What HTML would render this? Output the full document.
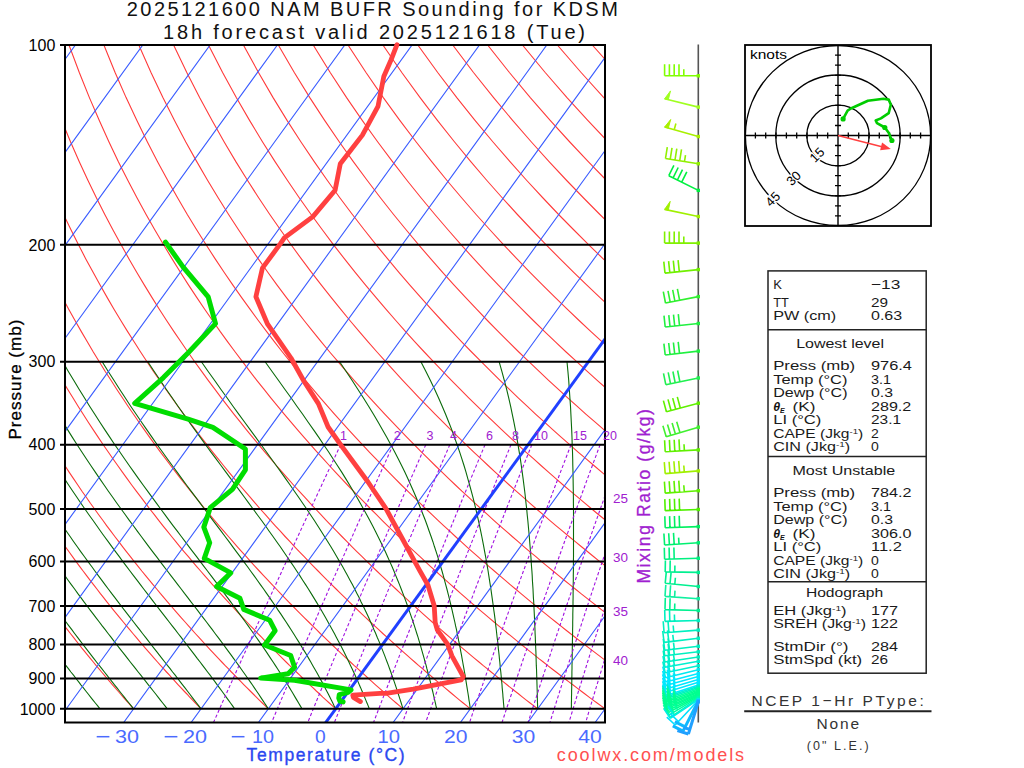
<!DOCTYPE html>
<html><head><meta charset="utf-8"><style>
html,body{margin:0;padding:0;background:#fff;width:1024px;height:768px;overflow:hidden}
svg text{font-family:"Liberation Sans",sans-serif}
</style></head><body>
<svg width="1024" height="768" viewBox="0 0 1024 768" style="position:absolute;left:0;top:0">
<defs><clipPath id="pc"><rect x="65" y="45" width="540" height="677.5"/></clipPath><clipPath id="hc"><rect x="745" y="45" width="186" height="181"/></clipPath></defs>
<g clip-path="url(#pc)" fill="none">
<path d="M66.3 708.8 L63.9 705.9 L61.5 703 L59 700.1 L56.6 697.1 L54.2 694 L51.7 691 L49.2 687.9 L46.7 684.8 L44.2 681.6 L41.7 678.5 L39.2 675.2 L36.7 672 L34.1 668.7 L31.5 665.4 L29 662 L26.4 658.6 L23.8 655.1 L21.2 651.6 L18.5 648.1 L15.9 644.5 L13.2 640.9 L10.6 637.2 L7.9 633.5 L5.2 629.7 L2.4 625.9 L-0.3 622 L-3 618.1 L-5.8 614.1 L-8.6 610.1 L-11.4 606 L-14.2 601.9 L-17 597.6 L-19.9 593.4 L-22.7 589 L-25.6 584.6 L-28.5 580.2 L-31.4 575.6 L-34.4 571 L-37.3 566.3 L-40.3 561.6 L-43.3 556.7 L-46.3 551.8 L-49.3 546.8 L-52.4 541.7 L-55.5 536.5 L-58.6 531.2 L-61.7 525.8 L-64.8 520.3 L-68 514.7 L-71.1 509 L-74.3 503.2 L-77.5 497.2 L-80.8 491.2 L-84.1 485 L-87.3 478.6 L-90.6 472.1 L-94 465.5 L-97.3 458.7 L-100.7 451.8 L-104.1 444.7 L-107.5 437.4 L-111 429.9 L-114.5 422.2 L-118 414.3 L-121.5 406.2 L-125 397.8 L-128.6 389.2 L-132.2 380.3 L-135.8 371.2 L-139.4 361.7 L-143.1 352 L-146.8 341.8 L-150.5 331.4 L-154.2 320.5 L-157.9 309.2 L-161.6 297.4 L-165.4 285.1 L-169.1 272.3 L-172.8 258.9 L-176.6 244.8 L-180.3 230 L-184 214.5 L-187.6 198 L-191.2 180.5 L-194.8 161.9 L-198.2 142 L-201.5 120.6 L-204.6 97.6 L-207.5 72.5 L-210 45 M133.6 708.8 L131 705.9 L128.4 703 L125.8 700.1 L123.2 697.1 L120.5 694 L117.9 691 L115.2 687.9 L112.5 684.8 L109.8 681.6 L107.1 678.5 L104.3 675.2 L101.6 672 L98.8 668.7 L96 665.4 L93.3 662 L90.5 658.6 L87.6 655.1 L84.8 651.6 L81.9 648.1 L79.1 644.5 L76.2 640.9 L73.3 637.2 L70.4 633.5 L67.4 629.7 L64.5 625.9 L61.5 622 L58.5 618.1 L55.5 614.1 L52.5 610.1 L49.4 606 L46.4 601.9 L43.3 597.6 L40.2 593.4 L37.1 589 L33.9 584.6 L30.7 580.2 L27.6 575.6 L24.4 571 L21.1 566.3 L17.9 561.6 L14.6 556.7 L11.3 551.8 L8 546.8 L4.7 541.7 L1.3 536.5 L-2.1 531.2 L-5.5 525.8 L-8.9 520.3 L-12.4 514.7 L-15.9 509 L-19.4 503.2 L-22.9 497.2 L-26.5 491.2 L-30.1 485 L-33.7 478.6 L-37.4 472.1 L-41.1 465.5 L-44.8 458.7 L-48.5 451.8 L-52.3 444.7 L-56.1 437.4 L-59.9 429.9 L-63.8 422.2 L-67.7 414.3 L-71.6 406.2 L-75.6 397.8 L-79.5 389.2 L-83.6 380.3 L-87.6 371.2 L-91.7 361.7 L-95.8 352 L-100 341.8 L-104.1 331.4 L-108.3 320.5 L-112.6 309.2 L-116.8 297.4 L-121.1 285.1 L-125.4 272.3 L-129.7 258.9 L-134.1 244.8 L-138.4 230 L-142.7 214.5 L-147.1 198 L-151.3 180.5 L-155.6 161.9 L-159.8 142 L-163.9 120.6 L-167.9 97.6 L-171.6 72.5 L-175.2 45 M201 708.8 L198.2 705.9 L195.4 703 L192.6 700.1 L189.7 697.1 L186.9 694 L184 691 L181.1 687.9 L178.2 684.8 L175.3 681.6 L172.4 678.5 L169.5 675.2 L166.5 672 L163.5 668.7 L160.5 665.4 L157.5 662 L154.5 658.6 L151.5 655.1 L148.4 651.6 L145.3 648.1 L142.2 644.5 L139.1 640.9 L136 637.2 L132.9 633.5 L129.7 629.7 L126.5 625.9 L123.3 622 L120.1 618.1 L116.8 614.1 L113.5 610.1 L110.2 606 L106.9 601.9 L103.6 597.6 L100.2 593.4 L96.9 589 L93.5 584.6 L90 580.2 L86.6 575.6 L83.1 571 L79.6 566.3 L76.1 561.6 L72.5 556.7 L69 551.8 L65.4 546.8 L61.7 541.7 L58.1 536.5 L54.4 531.2 L50.7 525.8 L46.9 520.3 L43.2 514.7 L39.3 509 L35.5 503.2 L31.7 497.2 L27.8 491.2 L23.8 485 L19.9 478.6 L15.9 472.1 L11.8 465.5 L7.8 458.7 L3.7 451.8 L-0.5 444.7 L-4.6 437.4 L-8.8 429.9 L-13.1 422.2 L-17.4 414.3 L-21.7 406.2 L-26.1 397.8 L-30.5 389.2 L-34.9 380.3 L-39.4 371.2 L-44 361.7 L-48.5 352 L-53.1 341.8 L-57.8 331.4 L-62.5 320.5 L-67.3 309.2 L-72 297.4 L-76.9 285.1 L-81.7 272.3 L-86.6 258.9 L-91.5 244.8 L-96.5 230 L-101.5 214.5 L-106.5 198 L-111.5 180.5 L-116.4 161.9 L-121.4 142 L-126.3 120.6 L-131.1 97.6 L-135.8 72.5 L-140.3 45 M268.3 708.8 L265.3 705.9 L262.3 703 L259.3 700.1 L256.3 697.1 L253.2 694 L250.2 691 L247.1 687.9 L244 684.8 L240.9 681.6 L237.8 678.5 L234.6 675.2 L231.4 672 L228.3 668.7 L225 665.4 L221.8 662 L218.6 658.6 L215.3 655.1 L212 651.6 L208.7 648.1 L205.4 644.5 L202.1 640.9 L198.7 637.2 L195.3 633.5 L191.9 629.7 L188.5 625.9 L185.1 622 L181.6 618.1 L178.1 614.1 L174.6 610.1 L171.1 606 L167.5 601.9 L163.9 597.6 L160.3 593.4 L156.7 589 L153 584.6 L149.3 580.2 L145.6 575.6 L141.8 571 L138.1 566.3 L134.3 561.6 L130.4 556.7 L126.6 551.8 L122.7 546.8 L118.8 541.7 L114.8 536.5 L110.8 531.2 L106.8 525.8 L102.8 520.3 L98.7 514.7 L94.6 509 L90.4 503.2 L86.3 497.2 L82 491.2 L77.8 485 L73.5 478.6 L69.1 472.1 L64.8 465.5 L60.3 458.7 L55.9 451.8 L51.4 444.7 L46.8 437.4 L42.2 429.9 L37.6 422.2 L32.9 414.3 L28.2 406.2 L23.4 397.8 L18.6 389.2 L13.7 380.3 L8.8 371.2 L3.8 361.7 L-1.2 352 L-6.3 341.8 L-11.5 331.4 L-16.7 320.5 L-21.9 309.2 L-27.2 297.4 L-32.6 285.1 L-38 272.3 L-43.5 258.9 L-49 244.8 L-54.6 230 L-60.2 214.5 L-65.9 198 L-71.6 180.5 L-77.3 161.9 L-83 142 L-88.7 120.6 L-94.4 97.6 L-99.9 72.5 L-105.4 45 M335.7 708.8 L332.5 705.9 L329.3 703 L326.1 700.1 L322.8 697.1 L319.6 694 L316.3 691 L313.1 687.9 L309.8 684.8 L306.4 681.6 L303.1 678.5 L299.7 675.2 L296.4 672 L293 668.7 L289.5 665.4 L286.1 662 L282.7 658.6 L279.2 655.1 L275.7 651.6 L272.2 648.1 L268.6 644.5 L265 640.9 L261.5 637.2 L257.8 633.5 L254.2 629.7 L250.5 625.9 L246.9 622 L243.2 618.1 L239.4 614.1 L235.7 610.1 L231.9 606 L228.1 601.9 L224.2 597.6 L220.4 593.4 L216.5 589 L212.5 584.6 L208.6 580.2 L204.6 575.6 L200.6 571 L196.5 566.3 L192.5 561.6 L188.4 556.7 L184.2 551.8 L180 546.8 L175.8 541.7 L171.6 536.5 L167.3 531.2 L163 525.8 L158.7 520.3 L154.3 514.7 L149.8 509 L145.4 503.2 L140.9 497.2 L136.3 491.2 L131.7 485 L127.1 478.6 L122.4 472.1 L117.7 465.5 L112.9 458.7 L108.1 451.8 L103.2 444.7 L98.3 437.4 L93.3 429.9 L88.3 422.2 L83.2 414.3 L78.1 406.2 L72.9 397.8 L67.6 389.2 L62.3 380.3 L57 371.2 L51.5 361.7 L46 352 L40.5 341.8 L34.8 331.4 L29.1 320.5 L23.4 309.2 L17.5 297.4 L11.6 285.1 L5.7 272.3 L-0.4 258.9 L-6.5 244.8 L-12.7 230 L-19 214.5 L-25.3 198 L-31.7 180.5 L-38.1 161.9 L-44.6 142 L-51.1 120.6 L-57.6 97.6 L-64.1 72.5 L-70.5 45 M403 708.8 L399.6 705.9 L396.2 703 L392.8 700.1 L389.4 697.1 L386 694 L382.5 691 L379 687.9 L375.5 684.8 L372 681.6 L368.4 678.5 L364.9 675.2 L361.3 672 L357.7 668.7 L354 665.4 L350.4 662 L346.7 658.6 L343 655.1 L339.3 651.6 L335.6 648.1 L331.8 644.5 L328 640.9 L324.2 637.2 L320.3 633.5 L316.5 629.7 L312.6 625.9 L308.7 622 L304.7 618.1 L300.7 614.1 L296.7 610.1 L292.7 606 L288.6 601.9 L284.5 597.6 L280.4 593.4 L276.3 589 L272.1 584.6 L267.9 580.2 L263.6 575.6 L259.3 571 L255 566.3 L250.7 561.6 L246.3 556.7 L241.9 551.8 L237.4 546.8 L232.9 541.7 L228.4 536.5 L223.8 531.2 L219.2 525.8 L214.5 520.3 L209.8 514.7 L205.1 509 L200.3 503.2 L195.5 497.2 L190.6 491.2 L185.7 485 L180.7 478.6 L175.7 472.1 L170.6 465.5 L165.5 458.7 L160.3 451.8 L155 444.7 L149.7 437.4 L144.4 429.9 L139 422.2 L133.5 414.3 L128 406.2 L122.4 397.8 L116.7 389.2 L111 380.3 L105.1 371.2 L99.3 361.7 L93.3 352 L87.3 341.8 L81.2 331.4 L75 320.5 L68.7 309.2 L62.3 297.4 L55.9 285.1 L49.4 272.3 L42.7 258.9 L36 244.8 L29.2 230 L22.3 214.5 L15.3 198 L8.2 180.5 L1.1 161.9 L-6.2 142 L-13.5 120.6 L-20.9 97.6 L-28.3 72.5 L-35.6 45 M470.3 708.8 L466.8 705.9 L463.2 703 L459.6 700.1 L456 697.1 L452.3 694 L448.7 691 L445 687.9 L441.3 684.8 L437.5 681.6 L433.8 678.5 L430 675.2 L426.2 672 L422.4 668.7 L418.5 665.4 L414.7 662 L410.8 658.6 L406.9 655.1 L402.9 651.6 L399 648.1 L395 644.5 L391 640.9 L386.9 637.2 L382.8 633.5 L378.7 629.7 L374.6 625.9 L370.4 622 L366.3 618.1 L362 614.1 L357.8 610.1 L353.5 606 L349.2 601.9 L344.9 597.6 L340.5 593.4 L336.1 589 L331.6 584.6 L327.1 580.2 L322.6 575.6 L318.1 571 L313.5 566.3 L308.9 561.6 L304.2 556.7 L299.5 551.8 L294.7 546.8 L290 541.7 L285.1 536.5 L280.3 531.2 L275.3 525.8 L270.4 520.3 L265.4 514.7 L260.3 509 L255.2 503.2 L250.1 497.2 L244.9 491.2 L239.6 485 L234.3 478.6 L228.9 472.1 L223.5 465.5 L218 458.7 L212.5 451.8 L206.9 444.7 L201.2 437.4 L195.5 429.9 L189.7 422.2 L183.8 414.3 L177.9 406.2 L171.8 397.8 L165.8 389.2 L159.6 380.3 L153.3 371.2 L147 361.7 L140.6 352 L134.1 341.8 L127.5 331.4 L120.8 320.5 L114 309.2 L107.1 297.4 L100.1 285.1 L93.1 272.3 L85.8 258.9 L78.5 244.8 L71.1 230 L63.6 214.5 L55.9 198 L48.1 180.5 L40.2 161.9 L32.2 142 L24.1 120.6 L15.9 97.6 L7.6 72.5 L-0.8 45 M537.7 708.8 L533.9 705.9 L530.1 703 L526.3 700.1 L522.5 697.1 L518.7 694 L514.8 691 L510.9 687.9 L507 684.8 L503.1 681.6 L499.1 678.5 L495.1 675.2 L491.1 672 L487.1 668.7 L483 665.4 L479 662 L474.9 658.6 L470.7 655.1 L466.6 651.6 L462.4 648.1 L458.2 644.5 L453.9 640.9 L449.6 637.2 L445.3 633.5 L441 629.7 L436.6 625.9 L432.2 622 L427.8 618.1 L423.3 614.1 L418.9 610.1 L414.3 606 L409.8 601.9 L405.2 597.6 L400.5 593.4 L395.9 589 L391.2 584.6 L386.4 580.2 L381.6 575.6 L376.8 571 L372 566.3 L367.1 561.6 L362.1 556.7 L357.1 551.8 L352.1 546.8 L347 541.7 L341.9 536.5 L336.7 531.2 L331.5 525.8 L326.2 520.3 L320.9 514.7 L315.6 509 L310.1 503.2 L304.7 497.2 L299.1 491.2 L293.5 485 L287.9 478.6 L282.2 472.1 L276.4 465.5 L270.6 458.7 L264.7 451.8 L258.7 444.7 L252.7 437.4 L246.5 429.9 L240.4 422.2 L234.1 414.3 L227.7 406.2 L221.3 397.8 L214.8 389.2 L208.2 380.3 L201.5 371.2 L194.7 361.7 L187.9 352 L180.9 341.8 L173.8 331.4 L166.6 320.5 L159.3 309.2 L151.9 297.4 L144.4 285.1 L136.7 272.3 L129 258.9 L121.1 244.8 L113 230 L104.8 214.5 L96.5 198 L88 180.5 L79.4 161.9 L70.6 142 L61.7 120.6 L52.6 97.6 L43.4 72.5 L34.1 45 M605 708.8 L601.1 705.9 L597.1 703 L593.1 700.1 L589.1 697.1 L585 694 L581 691 L576.9 687.9 L572.8 684.8 L568.6 681.6 L564.5 678.5 L560.3 675.2 L556.1 672 L551.8 668.7 L547.5 665.4 L543.3 662 L538.9 658.6 L534.6 655.1 L530.2 651.6 L525.8 648.1 L521.3 644.5 L516.9 640.9 L512.4 637.2 L507.8 633.5 L503.3 629.7 L498.7 625.9 L494 622 L489.4 618.1 L484.7 614.1 L479.9 610.1 L475.1 606 L470.3 601.9 L465.5 597.6 L460.6 593.4 L455.7 589 L450.7 584.6 L445.7 580.2 L440.7 575.6 L435.6 571 L430.4 566.3 L425.3 561.6 L420 556.7 L414.8 551.8 L409.4 546.8 L404.1 541.7 L398.7 536.5 L393.2 531.2 L387.7 525.8 L382.1 520.3 L376.5 514.7 L370.8 509 L365.1 503.2 L359.3 497.2 L353.4 491.2 L347.5 485 L341.5 478.6 L335.4 472.1 L329.3 465.5 L323.1 458.7 L316.9 451.8 L310.5 444.7 L304.1 437.4 L297.6 429.9 L291 422.2 L284.4 414.3 L277.6 406.2 L270.8 397.8 L263.9 389.2 L256.8 380.3 L249.7 371.2 L242.5 361.7 L235.2 352 L227.7 341.8 L220.1 331.4 L212.5 320.5 L204.7 309.2 L196.7 297.4 L188.6 285.1 L180.4 272.3 L172.1 258.9 L163.6 244.8 L154.9 230 L146.1 214.5 L137.1 198 L127.9 180.5 L118.5 161.9 L109 142 L99.3 120.6 L89.4 97.6 L79.3 72.5 L69 45 M672.4 708.8 L668.2 705.9 L664 703 L659.9 700.1 L655.6 697.1 L651.4 694 L647.1 691 L642.8 687.9 L638.5 684.8 L634.2 681.6 L629.8 678.5 L625.4 675.2 L621 672 L616.5 668.7 L612 665.4 L607.5 662 L603 658.6 L598.4 655.1 L593.8 651.6 L589.2 648.1 L584.5 644.5 L579.8 640.9 L575.1 637.2 L570.3 633.5 L565.5 629.7 L560.7 625.9 L555.8 622 L550.9 618.1 L546 614.1 L541 610.1 L536 606 L530.9 601.9 L525.8 597.6 L520.7 593.4 L515.5 589 L510.2 584.6 L505 580.2 L499.7 575.6 L494.3 571 L488.9 566.3 L483.4 561.6 L477.9 556.7 L472.4 551.8 L466.8 546.8 L461.1 541.7 L455.4 536.5 L449.7 531.2 L443.9 525.8 L438 520.3 L432 514.7 L426 509 L420 503.2 L413.9 497.2 L407.7 491.2 L401.4 485 L395.1 478.6 L388.7 472.1 L382.2 465.5 L375.7 458.7 L369.1 451.8 L362.4 444.7 L355.6 437.4 L348.7 429.9 L341.7 422.2 L334.7 414.3 L327.5 406.2 L320.3 397.8 L312.9 389.2 L305.5 380.3 L297.9 371.2 L290.2 361.7 L282.4 352 L274.5 341.8 L266.5 331.4 L258.3 320.5 L250 309.2 L241.5 297.4 L232.9 285.1 L224.1 272.3 L215.2 258.9 L206.1 244.8 L196.8 230 L187.3 214.5 L177.7 198 L167.8 180.5 L157.7 161.9 L147.4 142 L136.9 120.6 L126.1 97.6 L115.1 72.5 L103.9 45 M739.7 708.8 L735.4 705.9 L731 703 L726.6 700.1 L722.2 697.1 L717.8 694 L713.3 691 L708.8 687.9 L704.3 684.8 L699.7 681.6 L695.2 678.5 L690.5 675.2 L685.9 672 L681.2 668.7 L676.5 665.4 L671.8 662 L667.1 658.6 L662.3 655.1 L657.4 651.6 L652.6 648.1 L647.7 644.5 L642.8 640.9 L637.8 637.2 L632.8 633.5 L627.8 629.7 L622.7 625.9 L617.6 622 L612.5 618.1 L607.3 614.1 L602 610.1 L596.8 606 L591.5 601.9 L586.1 597.6 L580.7 593.4 L575.3 589 L569.8 584.6 L564.3 580.2 L558.7 575.6 L553.1 571 L547.4 566.3 L541.6 561.6 L535.9 556.7 L530 551.8 L524.1 546.8 L518.2 541.7 L512.2 536.5 L506.1 531.2 L500 525.8 L493.8 520.3 L487.6 514.7 L481.3 509 L474.9 503.2 L468.5 497.2 L461.9 491.2 L455.4 485 L448.7 478.6 L442 472.1 L435.1 465.5 L428.2 458.7 L421.3 451.8 L414.2 444.7 L407 437.4 L399.8 429.9 L392.4 422.2 L385 414.3 L377.4 406.2 L369.8 397.8 L362 389.2 L354.1 380.3 L346.1 371.2 L338 361.7 L329.7 352 L321.3 341.8 L312.8 331.4 L304.1 320.5 L295.3 309.2 L286.3 297.4 L277.1 285.1 L267.8 272.3 L258.3 258.9 L248.6 244.8 L238.7 230 L228.6 214.5 L218.3 198 L207.7 180.5 L196.9 161.9 L185.8 142 L174.5 120.6 L162.9 97.6 L151 72.5 L138.8 45 M807 708.8 L802.5 705.9 L797.9 703 L793.4 700.1 L788.8 697.1 L784.1 694 L779.5 691 L774.8 687.9 L770 684.8 L765.3 681.6 L760.5 678.5 L755.7 675.2 L750.8 672 L746 668.7 L741 665.4 L736.1 662 L731.1 658.6 L726.1 655.1 L721.1 651.6 L716 648.1 L710.9 644.5 L705.7 640.9 L700.5 637.2 L695.3 633.5 L690 629.7 L684.7 625.9 L679.4 622 L674 618.1 L668.6 614.1 L663.1 610.1 L657.6 606 L652 601.9 L646.4 597.6 L640.8 593.4 L635.1 589 L629.3 584.6 L623.5 580.2 L617.7 575.6 L611.8 571 L605.8 566.3 L599.8 561.6 L593.8 556.7 L587.7 551.8 L581.5 546.8 L575.3 541.7 L569 536.5 L562.6 531.2 L556.2 525.8 L549.7 520.3 L543.2 514.7 L536.5 509 L529.8 503.2 L523.1 497.2 L516.2 491.2 L509.3 485 L502.3 478.6 L495.2 472.1 L488.1 465.5 L480.8 458.7 L473.5 451.8 L466 444.7 L458.5 437.4 L450.8 429.9 L443.1 422.2 L435.3 414.3 L427.3 406.2 L419.2 397.8 L411 389.2 L402.7 380.3 L394.3 371.2 L385.7 361.7 L377 352 L368.1 341.8 L359.1 331.4 L349.9 320.5 L340.6 309.2 L331.1 297.4 L321.4 285.1 L311.5 272.3 L301.4 258.9 L291.1 244.8 L280.6 230 L269.8 214.5 L258.8 198 L247.6 180.5 L236 161.9 L224.2 142 L212.1 120.6 L199.6 97.6 L186.8 72.5 L173.6 45 M874.4 708.8 L869.7 705.9 L864.9 703 L860.1 700.1 L855.3 697.1 L850.5 694 L845.6 691 L840.7 687.9 L835.8 684.8 L830.8 681.6 L825.8 678.5 L820.8 675.2 L815.8 672 L810.7 668.7 L805.5 665.4 L800.4 662 L795.2 658.6 L790 655.1 L784.7 651.6 L779.4 648.1 L774.1 644.5 L768.7 640.9 L763.3 637.2 L757.8 633.5 L752.3 629.7 L746.8 625.9 L741.2 622 L735.6 618.1 L729.9 614.1 L724.2 610.1 L718.4 606 L712.6 601.9 L706.7 597.6 L700.8 593.4 L694.9 589 L688.9 584.6 L682.8 580.2 L676.7 575.6 L670.5 571 L664.3 566.3 L658 561.6 L651.7 556.7 L645.3 551.8 L638.8 546.8 L632.3 541.7 L625.7 536.5 L619.1 531.2 L612.4 525.8 L605.6 520.3 L598.7 514.7 L591.8 509 L584.8 503.2 L577.7 497.2 L570.5 491.2 L563.2 485 L555.9 478.6 L548.5 472.1 L541 465.5 L533.4 458.7 L525.6 451.8 L517.8 444.7 L509.9 437.4 L501.9 429.9 L493.8 422.2 L485.6 414.3 L477.2 406.2 L468.7 397.8 L460.1 389.2 L451.4 380.3 L442.5 371.2 L433.4 361.7 L424.3 352 L414.9 341.8 L405.4 331.4 L395.8 320.5 L385.9 309.2 L375.9 297.4 L365.6 285.1 L355.2 272.3 L344.5 258.9 L333.6 244.8 L322.5 230 L311.1 214.5 L299.4 198 L287.5 180.5 L275.2 161.9 L262.6 142 L249.7 120.6 L236.3 97.6 L222.6 72.5 L208.5 45 M941.7 708.8 L936.8 705.9 L931.9 703 L926.9 700.1 L921.9 697.1 L916.8 694 L911.8 691 L906.7 687.9 L901.5 684.8 L896.4 681.6 L891.2 678.5 L886 675.2 L880.7 672 L875.4 668.7 L870 665.4 L864.7 662 L859.3 658.6 L853.8 655.1 L848.3 651.6 L842.8 648.1 L837.2 644.5 L831.6 640.9 L826 637.2 L820.3 633.5 L814.6 629.7 L808.8 625.9 L803 622 L797.1 618.1 L791.2 614.1 L785.2 610.1 L779.2 606 L773.2 601.9 L767.1 597.6 L760.9 593.4 L754.7 589 L748.4 584.6 L742.1 580.2 L735.7 575.6 L729.3 571 L722.8 566.3 L716.2 561.6 L709.6 556.7 L702.9 551.8 L696.2 546.8 L689.4 541.7 L682.5 536.5 L675.5 531.2 L668.5 525.8 L661.4 520.3 L654.3 514.7 L647 509 L639.7 503.2 L632.3 497.2 L624.8 491.2 L617.2 485 L609.5 478.6 L601.7 472.1 L593.9 465.5 L585.9 458.7 L577.8 451.8 L569.7 444.7 L561.4 437.4 L553 429.9 L544.5 422.2 L535.8 414.3 L527.1 406.2 L518.2 397.8 L509.2 389.2 L500 380.3 L490.7 371.2 L481.2 361.7 L471.6 352 L461.7 341.8 L451.8 331.4 L441.6 320.5 L431.2 309.2 L420.7 297.4 L409.9 285.1 L398.9 272.3 L387.7 258.9 L376.2 244.8 L364.4 230 L352.4 214.5 L340 198 L327.4 180.5 L314.4 161.9 L301 142 L287.2 120.6 L273.1 97.6 L258.5 72.5 L243.4 45 M1009.1 708.8 L1003.9 705.9 L998.8 703 L993.6 700.1 L988.4 697.1 L983.2 694 L977.9 691 L972.6 687.9 L967.3 684.8 L961.9 681.6 L956.5 678.5 L951.1 675.2 L945.6 672 L940.1 668.7 L934.5 665.4 L929 662 L923.3 658.6 L917.7 655.1 L912 651.6 L906.2 648.1 L900.4 644.5 L894.6 640.9 L888.7 637.2 L882.8 633.5 L876.8 629.7 L870.8 625.9 L864.8 622 L858.7 618.1 L852.5 614.1 L846.3 610.1 L840 606 L833.7 601.9 L827.4 597.6 L821 593.4 L814.5 589 L808 584.6 L801.4 580.2 L794.7 575.6 L788 571 L781.3 566.3 L774.4 561.6 L767.5 556.7 L760.6 551.8 L753.5 546.8 L746.4 541.7 L739.3 536.5 L732 531.2 L724.7 525.8 L717.3 520.3 L709.8 514.7 L702.3 509 L694.6 503.2 L686.9 497.2 L679 491.2 L671.1 485 L663.1 478.6 L655 472.1 L646.8 465.5 L638.5 458.7 L630 451.8 L621.5 444.7 L612.8 437.4 L604.1 429.9 L595.2 422.2 L586.1 414.3 L577 406.2 L567.7 397.8 L558.2 389.2 L548.6 380.3 L538.9 371.2 L528.9 361.7 L518.8 352 L508.6 341.8 L498.1 331.4 L487.4 320.5 L476.6 309.2 L465.5 297.4 L454.1 285.1 L442.6 272.3 L430.8 258.9 L418.7 244.8 L406.3 230 L393.6 214.5 L380.6 198 L367.3 180.5 L353.5 161.9 L339.4 142 L324.8 120.6 L309.8 97.6 L294.3 72.5 L278.3 45 M1076.4 708.8 L1071.1 705.9 L1065.8 703 L1060.4 700.1 L1055 697.1 L1049.6 694 L1044.1 691 L1038.6 687.9 L1033.1 684.8 L1027.5 681.6 L1021.9 678.5 L1016.2 675.2 L1010.5 672 L1004.8 668.7 L999 665.4 L993.2 662 L987.4 658.6 L981.5 655.1 L975.6 651.6 L969.6 648.1 L963.6 644.5 L957.5 640.9 L951.4 637.2 L945.3 633.5 L939.1 629.7 L932.8 625.9 L926.5 622 L920.2 618.1 L913.8 614.1 L907.4 610.1 L900.9 606 L894.3 601.9 L887.7 597.6 L881 593.4 L874.3 589 L867.5 584.6 L860.7 580.2 L853.7 575.6 L846.8 571 L839.7 566.3 L832.6 561.6 L825.4 556.7 L818.2 551.8 L810.9 546.8 L803.5 541.7 L796 536.5 L788.5 531.2 L780.9 525.8 L773.2 520.3 L765.4 514.7 L757.5 509 L749.5 503.2 L741.5 497.2 L733.3 491.2 L725.1 485 L716.7 478.6 L708.3 472.1 L699.7 465.5 L691 458.7 L682.2 451.8 L673.3 444.7 L664.3 437.4 L655.1 429.9 L645.9 422.2 L636.4 414.3 L626.9 406.2 L617.1 397.8 L607.3 389.2 L597.2 380.3 L587 371.2 L576.7 361.7 L566.1 352 L555.4 341.8 L544.4 331.4 L533.3 320.5 L521.9 309.2 L510.3 297.4 L498.4 285.1 L486.3 272.3 L473.9 258.9 L461.2 244.8 L448.2 230 L434.9 214.5 L421.2 198 L407.1 180.5 L392.7 161.9 L377.8 142 L362.4 120.6 L346.6 97.6 L330.2 72.5 L313.2 45 M1143.7 708.8 L1138.2 705.9 L1132.7 703 L1127.1 700.1 L1121.6 697.1 L1115.9 694 L1110.3 691 L1104.5 687.9 L1098.8 684.8 L1093 681.6 L1087.2 678.5 L1081.4 675.2 L1075.5 672 L1069.5 668.7 L1063.5 665.4 L1057.5 662 L1051.5 658.6 L1045.4 655.1 L1039.2 651.6 L1033 648.1 L1026.8 644.5 L1020.5 640.9 L1014.2 637.2 L1007.8 633.5 L1001.3 629.7 L994.9 625.9 L988.3 622 L981.7 618.1 L975.1 614.1 L968.4 610.1 L961.7 606 L954.9 601.9 L948 597.6 L941.1 593.4 L934.1 589 L927 584.6 L919.9 580.2 L912.8 575.6 L905.5 571 L898.2 566.3 L890.8 561.6 L883.4 556.7 L875.8 551.8 L868.2 546.8 L860.6 541.7 L852.8 536.5 L845 531.2 L837 525.8 L829 520.3 L820.9 514.7 L812.7 509 L804.5 503.2 L796.1 497.2 L787.6 491.2 L779 485 L770.3 478.6 L761.5 472.1 L752.6 465.5 L743.6 458.7 L734.4 451.8 L725.2 444.7 L715.8 437.4 L706.2 429.9 L696.5 422.2 L686.7 414.3 L676.8 406.2 L666.6 397.8 L656.3 389.2 L645.9 380.3 L635.2 371.2 L624.4 361.7 L613.4 352 L602.2 341.8 L590.7 331.4 L579.1 320.5 L567.2 309.2 L555.1 297.4 L542.7 285.1 L530 272.3 L517 258.9 L503.7 244.8 L490.1 230 L476.1 214.5 L461.8 198 L447 180.5 L431.9 161.9 L416.2 142 L400 120.6 L383.3 97.6 L366 72.5 L348 45 M1211.1 708.8 L1205.4 705.9 L1199.7 703 L1193.9 700.1 L1188.1 697.1 L1182.3 694 L1176.4 691 L1170.5 687.9 L1164.6 684.8 L1158.6 681.6 L1152.6 678.5 L1146.5 675.2 L1140.4 672 L1134.2 668.7 L1128 665.4 L1121.8 662 L1115.5 658.6 L1109.2 655.1 L1102.8 651.6 L1096.4 648.1 L1090 644.5 L1083.5 640.9 L1076.9 637.2 L1070.3 633.5 L1063.6 629.7 L1056.9 625.9 L1050.1 622 L1043.3 618.1 L1036.4 614.1 L1029.5 610.1 L1022.5 606 L1015.4 601.9 L1008.3 597.6 L1001.1 593.4 L993.9 589 L986.6 584.6 L979.2 580.2 L971.8 575.6 L964.3 571 L956.7 566.3 L949 561.6 L941.3 556.7 L933.5 551.8 L925.6 546.8 L917.6 541.7 L909.6 536.5 L901.4 531.2 L893.2 525.8 L884.9 520.3 L876.5 514.7 L868 509 L859.4 503.2 L850.7 497.2 L841.9 491.2 L833 485 L823.9 478.6 L814.8 472.1 L805.5 465.5 L796.1 458.7 L786.6 451.8 L777 444.7 L767.2 437.4 L757.3 429.9 L747.2 422.2 L737 414.3 L726.6 406.2 L716.1 397.8 L705.4 389.2 L694.5 380.3 L683.4 371.2 L672.2 361.7 L660.7 352 L649 341.8 L637.1 331.4 L624.9 320.5 L612.5 309.2 L599.8 297.4 L586.9 285.1 L573.7 272.3 L560.1 258.9 L546.2 244.8 L532 230 L517.4 214.5 L502.4 198 L486.9 180.5 L471 161.9 L454.6 142 L437.6 120.6 L420.1 97.6 L401.8 72.5 L382.9 45 M1278.4 708.8 L1272.5 705.9 L1266.6 703 L1260.7 700.1 L1254.7 697.1 L1248.6 694 L1242.6 691 L1236.5 687.9 L1230.3 684.8 L1224.1 681.6 L1217.9 678.5 L1211.6 675.2 L1205.3 672 L1199 668.7 L1192.5 665.4 L1186.1 662 L1179.6 658.6 L1173.1 655.1 L1166.5 651.6 L1159.8 648.1 L1153.1 644.5 L1146.4 640.9 L1139.6 637.2 L1132.8 633.5 L1125.9 629.7 L1118.9 625.9 L1111.9 622 L1104.8 618.1 L1097.7 614.1 L1090.5 610.1 L1083.3 606 L1076 601.9 L1068.6 597.6 L1061.2 593.4 L1053.7 589 L1046.1 584.6 L1038.5 580.2 L1030.8 575.6 L1023 571 L1015.1 566.3 L1007.2 561.6 L999.2 556.7 L991.1 551.8 L982.9 546.8 L974.7 541.7 L966.3 536.5 L957.9 531.2 L949.4 525.8 L940.8 520.3 L932 514.7 L923.2 509 L914.3 503.2 L905.3 497.2 L896.1 491.2 L886.9 485 L877.5 478.6 L868 472.1 L858.4 465.5 L848.7 458.7 L838.8 451.8 L828.8 444.7 L818.7 437.4 L808.4 429.9 L797.9 422.2 L787.3 414.3 L776.5 406.2 L765.6 397.8 L754.5 389.2 L743.1 380.3 L731.6 371.2 L719.9 361.7 L708 352 L695.8 341.8 L683.4 331.4 L670.7 320.5 L657.8 309.2 L644.6 297.4 L631.2 285.1 L617.4 272.3 L603.2 258.9 L588.8 244.8 L573.9 230 L558.6 214.5 L543 198 L526.8 180.5 L510.2 161.9 L493 142 L475.2 120.6 L456.8 97.6 L437.7 72.5 L417.8 45 M1345.8 708.8 L1339.7 705.9 L1333.6 703 L1327.4 700.1 L1321.2 697.1 L1315 694 L1308.7 691 L1302.4 687.9 L1296.1 684.8 L1289.7 681.6 L1283.2 678.5 L1276.8 675.2 L1270.2 672 L1263.7 668.7 L1257 665.4 L1250.4 662 L1243.7 658.6 L1236.9 655.1 L1230.1 651.6 L1223.2 648.1 L1216.3 644.5 L1209.4 640.9 L1202.3 637.2 L1195.3 633.5 L1188.1 629.7 L1180.9 625.9 L1173.7 622 L1166.4 618.1 L1159 614.1 L1151.6 610.1 L1144.1 606 L1136.6 601.9 L1128.9 597.6 L1121.3 593.4 L1113.5 589 L1105.7 584.6 L1097.8 580.2 L1089.8 575.6 L1081.7 571 L1073.6 566.3 L1065.4 561.6 L1057.1 556.7 L1048.7 551.8 L1040.3 546.8 L1031.7 541.7 L1023.1 536.5 L1014.4 531.2 L1005.5 525.8 L996.6 520.3 L987.6 514.7 L978.5 509 L969.2 503.2 L959.9 497.2 L950.4 491.2 L940.8 485 L931.1 478.6 L921.3 472.1 L911.3 465.5 L901.3 458.7 L891 451.8 L880.7 444.7 L870.1 437.4 L859.5 429.9 L848.6 422.2 L837.6 414.3 L826.4 406.2 L815.1 397.8 L803.5 389.2 L791.8 380.3 L779.8 371.2 L767.6 361.7 L755.2 352 L742.6 341.8 L729.7 331.4 L716.6 320.5 L703.1 309.2 L689.4 297.4 L675.4 285.1 L661 272.3 L646.3 258.9 L631.3 244.8 L615.8 230 L599.9 214.5 L583.6 198 L566.7 180.5 L549.3 161.9 L531.4 142 L512.8 120.6 L493.6 97.6 L473.5 72.5 L452.7 45 M1413.1 708.8 L1406.8 705.9 L1400.5 703 L1394.2 700.1 L1387.8 697.1 L1381.4 694 L1374.9 691 L1368.4 687.9 L1361.8 684.8 L1355.2 681.6 L1348.6 678.5 L1341.9 675.2 L1335.2 672 L1328.4 668.7 L1321.5 665.4 L1314.7 662 L1307.7 658.6 L1300.8 655.1 L1293.7 651.6 L1286.6 648.1 L1279.5 644.5 L1272.3 640.9 L1265.1 637.2 L1257.8 633.5 L1250.4 629.7 L1243 625.9 L1235.5 622 L1227.9 618.1 L1220.3 614.1 L1212.7 610.1 L1204.9 606 L1197.1 601.9 L1189.3 597.6 L1181.3 593.4 L1173.3 589 L1165.2 584.6 L1157 580.2 L1148.8 575.6 L1140.5 571 L1132.1 566.3 L1123.6 561.6 L1115 556.7 L1106.4 551.8 L1097.6 546.8 L1088.8 541.7 L1079.9 536.5 L1070.8 531.2 L1061.7 525.8 L1052.5 520.3 L1043.1 514.7 L1033.7 509 L1024.1 503.2 L1014.5 497.2 L1004.7 491.2 L994.8 485 L984.7 478.6 L974.6 472.1 L964.3 465.5 L953.8 458.7 L943.2 451.8 L932.5 444.7 L921.6 437.4 L910.5 429.9 L899.3 422.2 L887.9 414.3 L876.3 406.2 L864.5 397.8 L852.6 389.2 L840.4 380.3 L828 371.2 L815.4 361.7 L802.5 352 L789.4 341.8 L776 331.4 L762.4 320.5 L748.5 309.2 L734.2 297.4 L719.7 285.1 L704.7 272.3 L689.5 258.9 L673.8 244.8 L657.7 230 L641.2 214.5 L624.1 198 L606.6 180.5 L588.5 161.9 L569.8 142 L550.4 120.6 L530.3 97.6 L509.4 72.5 L487.6 45 M1480.4 708.8 L1474 705.9 L1467.5 703 L1460.9 700.1 L1454.3 697.1 L1447.7 694 L1441.1 691 L1434.3 687.9 L1427.6 684.8 L1420.8 681.6 L1413.9 678.5 L1407 675.2 L1400.1 672 L1393.1 668.7 L1386 665.4 L1379 662 L1371.8 658.6 L1364.6 655.1 L1357.4 651.6 L1350 648.1 L1342.7 644.5 L1335.3 640.9 L1327.8 637.2 L1320.3 633.5 L1312.7 629.7 L1305 625.9 L1297.3 622 L1289.5 618.1 L1281.6 614.1 L1273.7 610.1 L1265.7 606 L1257.7 601.9 L1249.6 597.6 L1241.4 593.4 L1233.1 589 L1224.8 584.6 L1216.3 580.2 L1207.8 575.6 L1199.2 571 L1190.6 566.3 L1181.8 561.6 L1173 556.7 L1164 551.8 L1155 546.8 L1145.9 541.7 L1136.6 536.5 L1127.3 531.2 L1117.9 525.8 L1108.3 520.3 L1098.7 514.7 L1088.9 509 L1079.1 503.2 L1069.1 497.2 L1059 491.2 L1048.7 485 L1038.3 478.6 L1027.8 472.1 L1017.2 465.5 L1006.4 458.7 L995.4 451.8 L984.3 444.7 L973 437.4 L961.6 429.9 L950 422.2 L938.2 414.3 L926.2 406.2 L914 397.8 L901.6 389.2 L889 380.3 L876.2 371.2 L863.1 361.7 L849.8 352 L836.2 341.8 L822.4 331.4 L808.2 320.5 L793.8 309.2 L779 297.4 L763.9 285.1 L748.4 272.3 L732.6 258.9 L716.3 244.8 L699.6 230 L682.4 214.5 L664.7 198 L646.5 180.5 L627.7 161.9 L608.2 142 L588 120.6 L567 97.6 L545.2 72.5 L522.4 45 M1547.8 708.8 L1541.1 705.9 L1534.4 703 L1527.7 700.1 L1520.9 697.1 L1514.1 694 L1507.2 691 L1500.3 687.9 L1493.3 684.8 L1486.3 681.6 L1479.3 678.5 L1472.2 675.2 L1465 672 L1457.8 668.7 L1450.5 665.4 L1443.2 662 L1435.9 658.6 L1428.5 655.1 L1421 651.6 L1413.5 648.1 L1405.9 644.5 L1398.2 640.9 L1390.5 637.2 L1382.7 633.5 L1374.9 629.7 L1367 625.9 L1359.1 622 L1351 618.1 L1343 614.1 L1334.8 610.1 L1326.6 606 L1318.3 601.9 L1309.9 597.6 L1301.4 593.4 L1292.9 589 L1284.3 584.6 L1275.6 580.2 L1266.8 575.6 L1258 571 L1249 566.3 L1240 561.6 L1230.9 556.7 L1221.6 551.8 L1212.3 546.8 L1202.9 541.7 L1193.4 536.5 L1183.8 531.2 L1174.1 525.8 L1164.2 520.3 L1154.3 514.7 L1144.2 509 L1134 503.2 L1123.7 497.2 L1113.2 491.2 L1102.7 485 L1091.9 478.6 L1081.1 472.1 L1070.1 465.5 L1058.9 458.7 L1047.6 451.8 L1036.1 444.7 L1024.5 437.4 L1012.7 429.9 L1000.7 422.2 L988.5 414.3 L976.1 406.2 L963.5 397.8 L950.7 389.2 L937.6 380.3 L924.4 371.2 L910.9 361.7 L897.1 352 L883 341.8 L868.7 331.4 L854.1 320.5 L839.1 309.2 L823.8 297.4 L808.2 285.1 L792.1 272.3 L775.7 258.9 L758.8 244.8 L741.5 230 L723.7 214.5 L705.3 198 L686.4 180.5 L666.8 161.9 L646.6 142 L625.6 120.6 L603.8 97.6 L581.1 72.5 L557.3 45 M1615.1 708.8 L1608.3 705.9 L1601.4 703 L1594.4 700.1 L1587.5 697.1 L1580.4 694 L1573.4 691 L1566.3 687.9 L1559.1 684.8 L1551.9 681.6 L1544.6 678.5 L1537.3 675.2 L1529.9 672 L1522.5 668.7 L1515 665.4 L1507.5 662 L1499.9 658.6 L1492.3 655.1 L1484.6 651.6 L1476.9 648.1 L1469 644.5 L1461.2 640.9 L1453.2 637.2 L1445.2 633.5 L1437.2 629.7 L1429.1 625.9 L1420.9 622 L1412.6 618.1 L1404.3 614.1 L1395.9 610.1 L1387.4 606 L1378.8 601.9 L1370.2 597.6 L1361.5 593.4 L1352.7 589 L1343.8 584.6 L1334.9 580.2 L1325.8 575.6 L1316.7 571 L1307.5 566.3 L1298.2 561.6 L1288.8 556.7 L1279.3 551.8 L1269.7 546.8 L1260 541.7 L1250.2 536.5 L1240.3 531.2 L1230.2 525.8 L1220.1 520.3 L1209.8 514.7 L1199.4 509 L1188.9 503.2 L1178.3 497.2 L1167.5 491.2 L1156.6 485 L1145.5 478.6 L1134.3 472.1 L1123 465.5 L1111.5 458.7 L1099.8 451.8 L1088 444.7 L1076 437.4 L1063.8 429.9 L1051.4 422.2 L1038.8 414.3 L1026 406.2 L1013 397.8 L999.7 389.2 L986.3 380.3 L972.6 371.2 L958.6 361.7 L944.4 352 L929.8 341.8 L915 331.4 L899.9 320.5 L884.4 309.2 L868.6 297.4 L852.4 285.1 L835.8 272.3 L818.8 258.9 L801.3 244.8 L783.4 230 L764.9 214.5 L745.9 198 L726.3 180.5 L706 161.9 L685 142 L663.2 120.6 L640.5 97.6 L616.9 72.5 L592.2 45 M1682.5 708.8 L1675.4 705.9 L1668.3 703 L1661.2 700.1 L1654 697.1 L1646.8 694 L1639.5 691 L1632.2 687.9 L1624.8 684.8 L1617.4 681.6 L1610 678.5 L1602.4 675.2 L1594.9 672 L1587.2 668.7 L1579.5 665.4 L1571.8 662 L1564 658.6 L1556.2 655.1 L1548.2 651.6 L1540.3 648.1 L1532.2 644.5 L1524.1 640.9 L1516 637.2 L1507.7 633.5 L1499.4 629.7 L1491.1 625.9 L1482.6 622 L1474.1 618.1 L1465.6 614.1 L1456.9 610.1 L1448.2 606 L1439.4 601.9 L1430.5 597.6 L1421.6 593.4 L1412.5 589 L1403.4 584.6 L1394.2 580.2 L1384.9 575.6 L1375.5 571 L1366 566.3 L1356.4 561.6 L1346.7 556.7 L1336.9 551.8 L1327 546.8 L1317 541.7 L1306.9 536.5 L1296.7 531.2 L1286.4 525.8 L1275.9 520.3 L1265.4 514.7 L1254.7 509 L1243.8 503.2 L1232.9 497.2 L1221.8 491.2 L1210.5 485 L1199.2 478.6 L1187.6 472.1 L1175.9 465.5 L1164 458.7 L1152 451.8 L1139.8 444.7 L1127.4 437.4 L1114.8 429.9 L1102.1 422.2 L1089.1 414.3 L1075.9 406.2 L1062.5 397.8 L1048.8 389.2 L1034.9 380.3 L1020.8 371.2 L1006.3 361.7 L991.6 352 L976.6 341.8 L961.3 331.4 L945.7 320.5 L929.7 309.2 L913.4 297.4 L896.7 285.1 L879.5 272.3 L861.9 258.9 L843.9 244.8 L825.3 230 L806.2 214.5 L786.5 198 L766.2 180.5 L745.2 161.9 L723.4 142 L700.8 120.6 L677.3 97.6 L652.7 72.5 L627.1 45 M1749.8 708.8 L1742.6 705.9 L1735.3 703 L1728 700.1 L1720.6 697.1 L1713.2 694 L1705.7 691 L1698.2 687.9 L1690.6 684.8 L1683 681.6 L1675.3 678.5 L1667.6 675.2 L1659.8 672 L1651.9 668.7 L1644 665.4 L1636.1 662 L1628.1 658.6 L1620 655.1 L1611.9 651.6 L1603.7 648.1 L1595.4 644.5 L1587.1 640.9 L1578.7 637.2 L1570.2 633.5 L1561.7 629.7 L1553.1 625.9 L1544.4 622 L1535.7 618.1 L1526.9 614.1 L1518 610.1 L1509 606 L1500 601.9 L1490.8 597.6 L1481.6 593.4 L1472.3 589 L1462.9 584.6 L1453.4 580.2 L1443.9 575.6 L1434.2 571 L1424.4 566.3 L1414.6 561.6 L1404.6 556.7 L1394.6 551.8 L1384.4 546.8 L1374.1 541.7 L1363.7 536.5 L1353.2 531.2 L1342.6 525.8 L1331.8 520.3 L1320.9 514.7 L1309.9 509 L1298.8 503.2 L1287.5 497.2 L1276.1 491.2 L1264.5 485 L1252.8 478.6 L1240.9 472.1 L1228.8 465.5 L1216.6 458.7 L1204.2 451.8 L1191.6 444.7 L1178.9 437.4 L1165.9 429.9 L1152.7 422.2 L1139.4 414.3 L1125.8 406.2 L1111.9 397.8 L1097.9 389.2 L1083.5 380.3 L1068.9 371.2 L1054.1 361.7 L1038.9 352 L1023.5 341.8 L1007.7 331.4 L991.5 320.5 L975 309.2 L958.2 297.4 L940.9 285.1 L923.2 272.3 L905 258.9 L886.4 244.8 L867.2 230 L847.5 214.5 L827.1 198 L806.1 180.5 L784.3 161.9 L761.8 142 L738.4 120.6 L714 97.6 L688.6 72.5 L662 45 M1817.1 708.8 L1809.7 705.9 L1802.2 703 L1794.7 700.1 L1787.1 697.1 L1779.5 694 L1771.9 691 L1764.1 687.9 L1756.4 684.8 L1748.5 681.6 L1740.6 678.5 L1732.7 675.2 L1724.7 672 L1716.7 668.7 L1708.5 665.4 L1700.4 662 L1692.1 658.6 L1683.9 655.1 L1675.5 651.6 L1667.1 648.1 L1658.6 644.5 L1650 640.9 L1641.4 637.2 L1632.7 633.5 L1624 629.7 L1615.1 625.9 L1606.2 622 L1597.2 618.1 L1588.2 614.1 L1579 610.1 L1569.8 606 L1560.5 601.9 L1551.1 597.6 L1541.7 593.4 L1532.1 589 L1522.5 584.6 L1512.7 580.2 L1502.9 575.6 L1492.9 571 L1482.9 566.3 L1472.8 561.6 L1462.5 556.7 L1452.2 551.8 L1441.7 546.8 L1431.2 541.7 L1420.5 536.5 L1409.7 531.2 L1398.7 525.8 L1387.7 520.3 L1376.5 514.7 L1365.2 509 L1353.7 503.2 L1342.1 497.2 L1330.3 491.2 L1318.4 485 L1306.4 478.6 L1294.1 472.1 L1281.7 465.5 L1269.2 458.7 L1256.4 451.8 L1243.5 444.7 L1230.3 437.4 L1217 429.9 L1203.4 422.2 L1189.7 414.3 L1175.7 406.2 L1161.4 397.8 L1146.9 389.2 L1132.2 380.3 L1117.1 371.2 L1101.8 361.7 L1086.2 352 L1070.3 341.8 L1054 331.4 L1037.4 320.5 L1020.4 309.2 L1003 297.4 L985.2 285.1 L966.9 272.3 L948.2 258.9 L928.9 244.8 L909.1 230 L888.7 214.5 L867.7 198 L846 180.5 L823.5 161.9 L800.2 142 L776 120.6 L750.8 97.6 L724.4 72.5 L696.8 45 M1884.5 708.8 L1876.9 705.9 L1869.2 703 L1861.5 700.1 L1853.7 697.1 L1845.9 694 L1838 691 L1830.1 687.9 L1822.1 684.8 L1814.1 681.6 L1806 678.5 L1797.8 675.2 L1789.6 672 L1781.4 668.7 L1773 665.4 L1764.7 662 L1756.2 658.6 L1747.7 655.1 L1739.1 651.6 L1730.5 648.1 L1721.8 644.5 L1713 640.9 L1704.1 637.2 L1695.2 633.5 L1686.2 629.7 L1677.2 625.9 L1668 622 L1658.8 618.1 L1649.5 614.1 L1640.1 610.1 L1630.6 606 L1621.1 601.9 L1611.5 597.6 L1601.7 593.4 L1591.9 589 L1582 584.6 L1572 580.2 L1561.9 575.6 L1551.7 571 L1541.4 566.3 L1531 561.6 L1520.5 556.7 L1509.8 551.8 L1499.1 546.8 L1488.2 541.7 L1477.2 536.5 L1466.1 531.2 L1454.9 525.8 L1443.5 520.3 L1432 514.7 L1420.4 509 L1408.6 503.2 L1396.7 497.2 L1384.6 491.2 L1372.4 485 L1360 478.6 L1347.4 472.1 L1334.6 465.5 L1321.7 458.7 L1308.6 451.8 L1295.3 444.7 L1281.8 437.4 L1268.1 429.9 L1254.1 422.2 L1239.9 414.3 L1225.5 406.2 L1210.9 397.8 L1196 389.2 L1180.8 380.3 L1165.3 371.2 L1149.6 361.7 L1133.5 352 L1117.1 341.8 L1100.3 331.4 L1083.2 320.5 L1065.7 309.2 L1047.8 297.4 L1029.4 285.1 L1010.6 272.3 L991.3 258.9 L971.4 244.8 L951 230 L930 214.5 L908.3 198 L885.9 180.5 L862.7 161.9 L838.6 142 L813.6 120.6 L787.5 97.6 L760.3 72.5 L731.7 45 M1951.8 708.8 L1944 705.9 L1936.1 703 L1928.2 700.1 L1920.3 697.1 L1912.2 694 L1904.2 691 L1896 687.9 L1887.9 684.8 L1879.6 681.6 L1871.3 678.5 L1863 675.2 L1854.6 672 L1846.1 668.7 L1837.5 665.4 L1828.9 662 L1820.3 658.6 L1811.6 655.1 L1802.8 651.6 L1793.9 648.1 L1785 644.5 L1775.9 640.9 L1766.9 637.2 L1757.7 633.5 L1748.5 629.7 L1739.2 625.9 L1729.8 622 L1720.3 618.1 L1710.8 614.1 L1701.2 610.1 L1691.5 606 L1681.7 601.9 L1671.8 597.6 L1661.8 593.4 L1651.7 589 L1641.5 584.6 L1631.3 580.2 L1620.9 575.6 L1610.4 571 L1599.9 566.3 L1589.2 561.6 L1578.4 556.7 L1567.5 551.8 L1556.4 546.8 L1545.3 541.7 L1534 536.5 L1522.6 531.2 L1511.1 525.8 L1499.4 520.3 L1487.6 514.7 L1475.6 509 L1463.5 503.2 L1451.3 497.2 L1438.9 491.2 L1426.3 485 L1413.6 478.6 L1400.7 472.1 L1387.6 465.5 L1374.3 458.7 L1360.8 451.8 L1347.1 444.7 L1333.2 437.4 L1319.1 429.9 L1304.8 422.2 L1290.2 414.3 L1275.4 406.2 L1260.4 397.8 L1245 389.2 L1229.4 380.3 L1213.5 371.2 L1197.3 361.7 L1180.8 352 L1163.9 341.8 L1146.6 331.4 L1129 320.5 L1111 309.2 L1092.6 297.4 L1073.7 285.1 L1054.3 272.3 L1034.4 258.9 L1013.9 244.8 L992.9 230 L971.2 214.5 L948.9 198 L925.7 180.5 L901.8 161.9 L877 142 L851.2 120.6 L824.3 97.6 L796.1 72.5 L766.6 45 M2019.2 708.8 L2011.1 705.9 L2003.1 703 L1995 700.1 L1986.8 697.1 L1978.6 694 L1970.3 691 L1962 687.9 L1953.6 684.8 L1945.2 681.6 L1936.7 678.5 L1928.1 675.2 L1919.5 672 L1910.8 668.7 L1902 665.4 L1893.2 662 L1884.3 658.6 L1875.4 655.1 L1866.4 651.6 L1857.3 648.1 L1848.1 644.5 L1838.9 640.9 L1829.6 637.2 L1820.2 633.5 L1810.8 629.7 L1801.2 625.9 L1791.6 622 L1781.9 618.1 L1772.1 614.1 L1762.2 610.1 L1752.3 606 L1742.2 601.9 L1732.1 597.6 L1721.8 593.4 L1711.5 589 L1701.1 584.6 L1690.6 580.2 L1679.9 575.6 L1669.2 571 L1658.3 566.3 L1647.4 561.6 L1636.3 556.7 L1625.1 551.8 L1613.8 546.8 L1602.3 541.7 L1590.8 536.5 L1579.1 531.2 L1567.2 525.8 L1555.3 520.3 L1543.1 514.7 L1530.9 509 L1518.5 503.2 L1505.9 497.2 L1493.2 491.2 L1480.2 485 L1467.2 478.6 L1453.9 472.1 L1440.5 465.5 L1426.8 458.7 L1413 451.8 L1399 444.7 L1384.7 437.4 L1370.2 429.9 L1355.5 422.2 L1340.5 414.3 L1325.3 406.2 L1309.8 397.8 L1294.1 389.2 L1278 380.3 L1261.7 371.2 L1245 361.7 L1228 352 L1210.7 341.8 L1193 331.4 L1174.8 320.5 L1156.3 309.2 L1137.3 297.4 L1117.9 285.1 L1098 272.3 L1077.5 258.9 L1056.5 244.8 L1034.8 230 L1012.5 214.5 L989.5 198 L965.6 180.5 L941 161.9 L915.4 142 L888.8 120.6 L861 97.6 L832 72.5 L801.5 45" stroke="#ff3a3a" stroke-width="1.1"/>
<path d="M100 708.8 L97.7 705.9 L95.3 703 L93 700.1 L90.6 697.1 L88.2 694 L85.8 691 L83.4 687.9 L80.9 684.8 L78.5 681.6 L76 678.5 L73.5 675.2 L70.9 672 L68.4 668.7 L65.8 665.4 L63.2 662 L60.6 658.6 L58 655.1 L55.4 651.6 L52.7 648.1 L50 644.5 L47.3 640.9 L44.6 637.2 L41.8 633.5 L39.1 629.7 L36.3 625.9 L33.5 622 L30.7 618.1 L27.8 614.1 L24.9 610.1 L22.1 606 L19.2 601.9 L16.2 597.6 L13.3 593.4 L10.3 589 L7.3 584.6 L4.3 580.2 L1.3 575.6 L-1.8 571 L-4.9 566.3 L-8 561.6 L-11.1 556.7 L-14.3 551.8 L-17.4 546.8 L-20.6 541.7 L-23.8 536.5 L-27.1 531.2 L-30.3 525.8 L-33.6 520.3 L-36.9 514.7 L-40.3 509 L-43.6 503.2 L-47 497.2 L-50.4 491.2 L-53.9 485 L-57.3 478.6 L-60.8 472.1 L-64.3 465.5 L-67.9 458.7 L-71.5 451.8 L-75.1 444.7 L-78.7 437.4 L-82.3 429.9 L-86 422.2 L-89.7 414.3 L-93.5 406.2 L-97.2 397.8 L-101 389.2 L-104.8 380.3 L-108.7 371.2 L-112.6 361.7 M133.6 708.8 L131.3 705.9 L129 703 L126.6 700.1 L124.3 697.1 L121.8 694 L119.4 691 L117 687.9 L114.5 684.8 L112 681.6 L109.5 678.5 L106.9 675.2 L104.4 672 L101.8 668.7 L99.2 665.4 L96.5 662 L93.9 658.6 L91.2 655.1 L88.5 651.6 L85.8 648.1 L83 644.5 L80.2 640.9 L77.4 637.2 L74.6 633.5 L71.8 629.7 L68.9 625.9 L66 622 L63.1 618.1 L60.1 614.1 L57.2 610.1 L54.2 606 L51.2 601.9 L48.1 597.6 L45.1 593.4 L42 589 L38.9 584.6 L35.7 580.2 L32.6 575.6 L29.4 571 L26.2 566.3 L23 561.6 L19.7 556.7 L16.4 551.8 L13.1 546.8 L9.8 541.7 L6.4 536.5 L3 531.2 L-0.4 525.8 L-3.9 520.3 L-7.3 514.7 L-10.8 509 L-14.3 503.2 L-17.9 497.2 L-21.5 491.2 L-25.1 485 L-28.7 478.6 L-32.4 472.1 L-36.1 465.5 L-39.8 458.7 L-43.6 451.8 L-47.4 444.7 L-51.2 437.4 L-55.1 429.9 L-59 422.2 L-62.9 414.3 L-66.8 406.2 L-70.8 397.8 L-74.8 389.2 L-78.9 380.3 L-83 371.2 L-87.1 361.7 M167.3 708.8 L165 705.9 L162.7 703 L160.4 700.1 L158.1 697.1 L155.7 694 L153.3 691 L150.8 687.9 L148.4 684.8 L145.9 681.6 L143.4 678.5 L140.8 675.2 L138.2 672 L135.6 668.7 L133 665.4 L130.3 662 L127.7 658.6 L125 655.1 L122.2 651.6 L119.4 648.1 L116.6 644.5 L113.8 640.9 L111 637.2 L108.1 633.5 L105.2 629.7 L102.2 625.9 L99.3 622 L96.3 618.1 L93.3 614.1 L90.2 610.1 L87.1 606 L84 601.9 L80.9 597.6 L77.7 593.4 L74.6 589 L71.3 584.6 L68.1 580.2 L64.8 575.6 L61.5 571 L58.2 566.3 L54.8 561.6 L51.4 556.7 L48 551.8 L44.6 546.8 L41.1 541.7 L37.6 536.5 L34 531.2 L30.5 525.8 L26.9 520.3 L23.2 514.7 L19.6 509 L15.9 503.2 L12.2 497.2 L8.4 491.2 L4.6 485 L0.8 478.6 L-3.1 472.1 L-6.9 465.5 L-10.9 458.7 L-14.8 451.8 L-18.8 444.7 L-22.8 437.4 L-26.9 429.9 L-31 422.2 L-35.1 414.3 L-39.3 406.2 L-43.5 397.8 L-47.8 389.2 L-52.1 380.3 L-56.4 371.2 L-60.7 361.7 M201 708.8 L198.8 705.9 L196.6 703 L194.3 700.1 L192 697.1 L189.7 694 L187.4 691 L185 687.9 L182.6 684.8 L180.1 681.6 L177.7 678.5 L175.2 675.2 L172.6 672 L170.1 668.7 L167.4 665.4 L164.8 662 L162.1 658.6 L159.4 655.1 L156.7 651.6 L153.9 648.1 L151.1 644.5 L148.3 640.9 L145.4 637.2 L142.5 633.5 L139.6 629.7 L136.6 625.9 L133.6 622 L130.6 618.1 L127.5 614.1 L124.4 610.1 L121.2 606 L118.1 601.9 L114.9 597.6 L111.6 593.4 L108.3 589 L105 584.6 L101.7 580.2 L98.3 575.6 L94.9 571 L91.5 566.3 L88 561.6 L84.5 556.7 L80.9 551.8 L77.3 546.8 L73.7 541.7 L70.1 536.5 L66.4 531.2 L62.7 525.8 L58.9 520.3 L55.1 514.7 L51.3 509 L47.5 503.2 L43.6 497.2 L39.6 491.2 L35.7 485 L31.7 478.6 L27.6 472.1 L23.5 465.5 L19.4 458.7 L15.3 451.8 L11.1 444.7 L6.8 437.4 L2.6 429.9 L-1.8 422.2 L-6.1 414.3 L-10.5 406.2 L-15 397.8 L-19.5 389.2 L-24 380.3 L-28.6 371.2 L-33.2 361.7 M234.6 708.8 L232.6 705.9 L230.5 703 L228.4 700.1 L226.2 697.1 L224 694 L221.8 691 L219.5 687.9 L217.2 684.8 L214.9 681.6 L212.5 678.5 L210.1 675.2 L207.6 672 L205.1 668.7 L202.6 665.4 L200.1 662 L197.4 658.6 L194.8 655.1 L192.1 651.6 L189.4 648.1 L186.6 644.5 L183.8 640.9 L181 637.2 L178.1 633.5 L175.2 629.7 L172.2 625.9 L169.2 622 L166.2 618.1 L163.1 614.1 L160 610.1 L156.8 606 L153.6 601.9 L150.4 597.6 L147.1 593.4 L143.7 589 L140.4 584.6 L137 580.2 L133.5 575.6 L130 571 L126.5 566.3 L122.9 561.6 L119.3 556.7 L115.7 551.8 L112 546.8 L108.2 541.7 L104.4 536.5 L100.6 531.2 L96.8 525.8 L92.9 520.3 L88.9 514.7 L84.9 509 L80.9 503.2 L76.9 497.2 L72.8 491.2 L68.6 485 L64.4 478.6 L60.2 472.1 L55.9 465.5 L51.6 458.7 L47.2 451.8 L42.8 444.7 L38.3 437.4 L33.8 429.9 L29.3 422.2 L24.7 414.3 L20 406.2 L15.3 397.8 L10.6 389.2 L5.8 380.3 L1 371.2 L-3.9 361.7 M268.3 708.8 L266.4 705.9 L264.5 703 L262.6 700.1 L260.6 697.1 L258.6 694 L256.5 691 L254.4 687.9 L252.3 684.8 L250.1 681.6 L247.9 678.5 L245.6 675.2 L243.3 672 L241 668.7 L238.6 665.4 L236.2 662 L233.7 658.6 L231.2 655.1 L228.6 651.6 L226 648.1 L223.4 644.5 L220.7 640.9 L217.9 637.2 L215.1 633.5 L212.3 629.7 L209.4 625.9 L206.5 622 L203.5 618.1 L200.4 614.1 L197.4 610.1 L194.2 606 L191 601.9 L187.8 597.6 L184.5 593.4 L181.2 589 L177.8 584.6 L174.4 580.2 L170.9 575.6 L167.4 571 L163.8 566.3 L160.2 561.6 L156.5 556.7 L152.8 551.8 L149 546.8 L145.1 541.7 L141.3 536.5 L137.3 531.2 L133.4 525.8 L129.3 520.3 L125.3 514.7 L121.1 509 L116.9 503.2 L112.7 497.2 L108.4 491.2 L104.1 485 L99.7 478.6 L95.3 472.1 L90.8 465.5 L86.3 458.7 L81.7 451.8 L77.1 444.7 L72.4 437.4 L67.7 429.9 L62.9 422.2 L58 414.3 L53.1 406.2 L48.2 397.8 L43.1 389.2 L38.1 380.3 L32.9 371.2 L27.8 361.7 M302 708.8 L300.3 705.9 L298.6 703 L296.9 700.1 L295.1 697.1 L293.3 694 L291.5 691 L289.6 687.9 L287.7 684.8 L285.7 681.6 L283.7 678.5 L281.7 675.2 L279.6 672 L277.5 668.7 L275.3 665.4 L273.1 662 L270.8 658.6 L268.5 655.1 L266.2 651.6 L263.8 648.1 L261.3 644.5 L258.8 640.9 L256.2 637.2 L253.6 633.5 L250.9 629.7 L248.2 625.9 L245.4 622 L242.6 618.1 L239.7 614.1 L236.7 610.1 L233.7 606 L230.7 601.9 L227.5 597.6 L224.3 593.4 L221.1 589 L217.8 584.6 L214.4 580.2 L211 575.6 L207.5 571 L203.9 566.3 L200.3 561.6 L196.6 556.7 L192.9 551.8 L189.1 546.8 L185.2 541.7 L181.3 536.5 L177.3 531.2 L173.2 525.8 L169.1 520.3 L164.9 514.7 L160.7 509 L156.4 503.2 L152 497.2 L147.6 491.2 L143.1 485 L138.5 478.6 L133.9 472.1 L129.2 465.5 L124.5 458.7 L119.7 451.8 L114.8 444.7 L109.9 437.4 L104.9 429.9 L99.9 422.2 L94.8 414.3 L89.6 406.2 L84.4 397.8 L79.1 389.2 L73.7 380.3 L68.2 371.2 L62.7 361.7 M335.7 708.8 L334.2 705.9 L332.8 703 L331.3 700.1 L329.8 697.1 L328.3 694 L326.7 691 L325.1 687.9 L323.4 684.8 L321.8 681.6 L320 678.5 L318.3 675.2 L316.5 672 L314.6 668.7 L312.7 665.4 L310.8 662 L308.8 658.6 L306.8 655.1 L304.7 651.6 L302.5 648.1 L300.4 644.5 L298.1 640.9 L295.8 637.2 L293.5 633.5 L291.1 629.7 L288.6 625.9 L286.1 622 L283.5 618.1 L280.9 614.1 L278.1 610.1 L275.4 606 L272.5 601.9 L269.6 597.6 L266.6 593.4 L263.6 589 L260.4 584.6 L257.3 580.2 L254 575.6 L250.6 571 L247.2 566.3 L243.7 561.6 L240.1 556.7 L236.5 551.8 L232.8 546.8 L229 541.7 L225.1 536.5 L221.1 531.2 L217.1 525.8 L212.9 520.3 L208.7 514.7 L204.4 509 L200.1 503.2 L195.6 497.2 L191.1 491.2 L186.5 485 L181.8 478.6 L177.1 472.1 L172.2 465.5 L167.3 458.7 L162.3 451.8 L157.2 444.7 L152.1 437.4 L146.9 429.9 L141.6 422.2 L136.2 414.3 L130.7 406.2 L125.2 397.8 L119.6 389.2 L113.9 380.3 L108.1 371.2 L102.2 361.7 M369.3 708.8 L368.2 705.9 L367 703 L365.8 700.1 L364.6 697.1 L363.3 694 L362 691 L360.7 687.9 L359.3 684.8 L358 681.6 L356.5 678.5 L355.1 675.2 L353.6 672 L352.1 668.7 L350.5 665.4 L348.9 662 L347.2 658.6 L345.5 655.1 L343.8 651.6 L342 648.1 L340.2 644.5 L338.3 640.9 L336.3 637.2 L334.4 633.5 L332.3 629.7 L330.2 625.9 L328 622 L325.8 618.1 L323.5 614.1 L321.2 610.1 L318.8 606 L316.3 601.9 L313.7 597.6 L311.1 593.4 L308.4 589 L305.6 584.6 L302.7 580.2 L299.8 575.6 L296.7 571 L293.6 566.3 L290.4 561.6 L287.1 556.7 L283.7 551.8 L280.3 546.8 L276.7 541.7 L273 536.5 L269.2 531.2 L265.4 525.8 L261.4 520.3 L257.3 514.7 L253.1 509 L248.8 503.2 L244.5 497.2 L240 491.2 L235.4 485 L230.7 478.6 L225.9 472.1 L221 465.5 L215.9 458.7 L210.8 451.8 L205.6 444.7 L200.3 437.4 L194.9 429.9 L189.3 422.2 L183.7 414.3 L178 406.2 L172.2 397.8 L166.2 389.2 L160.2 380.3 L154.1 371.2 L147.8 361.7 M403 708.8 L402.1 705.9 L401.2 703 L400.3 700.1 L399.3 697.1 L398.3 694 L397.3 691 L396.3 687.9 L395.3 684.8 L394.2 681.6 L393.1 678.5 L391.9 675.2 L390.8 672 L389.6 668.7 L388.4 665.4 L387.1 662 L385.8 658.6 L384.5 655.1 L383.1 651.6 L381.7 648.1 L380.3 644.5 L378.8 640.9 L377.2 637.2 L375.7 633.5 L374 629.7 L372.4 625.9 L370.6 622 L368.9 618.1 L367 614.1 L365.1 610.1 L363.2 606 L361.1 601.9 L359.1 597.6 L356.9 593.4 L354.7 589 L352.4 584.6 L350 580.2 L347.5 575.6 L345 571 L342.4 566.3 L339.6 561.6 L336.8 556.7 L333.9 551.8 L330.9 546.8 L327.8 541.7 L324.5 536.5 L321.2 531.2 L317.7 525.8 L314.2 520.3 L310.5 514.7 L306.7 509 L302.7 503.2 L298.6 497.2 L294.4 491.2 L290.1 485 L285.6 478.6 L281 472.1 L276.2 465.5 L271.3 458.7 L266.3 451.8 L261.1 444.7 L255.8 437.4 L250.3 429.9 L244.7 422.2 L238.9 414.3 L233 406.2 L227 397.8 L220.8 389.2 L214.5 380.3 L208 371.2 L201.4 361.7 M436.7 708.8 L436 705.9 L435.4 703 L434.7 700.1 L434 697.1 L433.3 694 L432.6 691 L431.8 687.9 L431.1 684.8 L430.3 681.6 L429.5 678.5 L428.7 675.2 L427.8 672 L426.9 668.7 L426.1 665.4 L425.1 662 L424.2 658.6 L423.2 655.1 L422.2 651.6 L421.2 648.1 L420.2 644.5 L419.1 640.9 L418 637.2 L416.8 633.5 L415.6 629.7 L414.4 625.9 L413.1 622 L411.8 618.1 L410.4 614.1 L409 610.1 L407.6 606 L406.1 601.9 L404.5 597.6 L402.9 593.4 L401.2 589 L399.5 584.6 L397.7 580.2 L395.8 575.6 L393.9 571 L391.9 566.3 L389.8 561.6 L387.6 556.7 L385.4 551.8 L383 546.8 L380.6 541.7 L378 536.5 L375.4 531.2 L372.6 525.8 L369.7 520.3 L366.7 514.7 L363.5 509 L360.3 503.2 L356.9 497.2 L353.3 491.2 L349.6 485 L345.7 478.6 L341.7 472.1 L337.4 465.5 L333 458.7 L328.5 451.8 L323.7 444.7 L318.8 437.4 L313.6 429.9 L308.2 422.2 L302.7 414.3 L296.9 406.2 L291 397.8 L284.8 389.2 L278.4 380.3 L271.9 371.2 L265.1 361.7 M470.3 708.8 L469.9 705.9 L469.5 703 L469 700.1 L468.6 697.1 L468.1 694 L467.6 691 L467.1 687.9 L466.6 684.8 L466.1 681.6 L465.6 678.5 L465.1 675.2 L464.5 672 L463.9 668.7 L463.3 665.4 L462.7 662 L462.1 658.6 L461.5 655.1 L460.8 651.6 L460.2 648.1 L459.5 644.5 L458.7 640.9 L458 637.2 L457.2 633.5 L456.5 629.7 L455.6 625.9 L454.8 622 L453.9 618.1 L453 614.1 L452.1 610.1 L451.1 606 L450.1 601.9 L449.1 597.6 L448 593.4 L446.9 589 L445.7 584.6 L444.5 580.2 L443.3 575.6 L442 571 L440.6 566.3 L439.2 561.6 L437.7 556.7 L436.2 551.8 L434.5 546.8 L432.9 541.7 L431.1 536.5 L429.2 531.2 L427.3 525.8 L425.3 520.3 L423.1 514.7 L420.9 509 L418.5 503.2 L416.1 497.2 L413.5 491.2 L410.7 485 L407.8 478.6 L404.8 472.1 L401.6 465.5 L398.2 458.7 L394.6 451.8 L390.8 444.7 L386.9 437.4 L382.6 429.9 L378.2 422.2 L373.5 414.3 L368.6 406.2 L363.3 397.8 L357.8 389.2 L352 380.3 L346 371.2 L339.6 361.7 M504 708.8 L503.8 705.9 L503.5 703 L503.3 700.1 L503 697.1 L502.8 694 L502.5 691 L502.2 687.9 L502 684.8 L501.7 681.6 L501.4 678.5 L501.1 675.2 L500.8 672 L500.4 668.7 L500.1 665.4 L499.8 662 L499.4 658.6 L499.1 655.1 L498.7 651.6 L498.3 648.1 L498 644.5 L497.6 640.9 L497.1 637.2 L496.7 633.5 L496.3 629.7 L495.8 625.9 L495.4 622 L494.9 618.1 L494.4 614.1 L493.8 610.1 L493.3 606 L492.7 601.9 L492.1 597.6 L491.5 593.4 L490.9 589 L490.2 584.6 L489.5 580.2 L488.8 575.6 L488.1 571 L487.3 566.3 L486.5 561.6 L485.6 556.7 L484.7 551.8 L483.8 546.8 L482.8 541.7 L481.8 536.5 L480.7 531.2 L479.6 525.8 L478.4 520.3 L477.1 514.7 L475.8 509 L474.4 503.2 L472.9 497.2 L471.3 491.2 L469.6 485 L467.8 478.6 L466 472.1 L464 465.5 L461.8 458.7 L459.6 451.8 L457.1 444.7 L454.5 437.4 L451.8 429.9 L448.8 422.2 L445.6 414.3 L442.2 406.2 L438.5 397.8 L434.6 389.2 L430.3 380.3 L425.8 371.2 L420.9 361.7 M537.7 708.8 L537.6 705.9 L537.5 703 L537.4 700.1 L537.3 697.1 L537.3 694 L537.2 691 L537.1 687.9 L537 684.8 L536.9 681.6 L536.8 678.5 L536.7 675.2 L536.6 672 L536.5 668.7 L536.3 665.4 L536.2 662 L536.1 658.6 L536 655.1 L535.9 651.6 L535.7 648.1 L535.6 644.5 L535.4 640.9 L535.3 637.2 L535.1 633.5 L535 629.7 L534.8 625.9 L534.6 622 L534.5 618.1 L534.3 614.1 L534.1 610.1 L533.9 606 L533.7 601.9 L533.4 597.6 L533.2 593.4 L533 589 L532.7 584.6 L532.4 580.2 L532.2 575.6 L531.9 571 L531.5 566.3 L531.2 561.6 L530.9 556.7 L530.5 551.8 L530.1 546.8 L529.7 541.7 L529.3 536.5 L528.8 531.2 L528.3 525.8 L527.8 520.3 L527.2 514.7 L526.7 509 L526 503.2 L525.4 497.2 L524.7 491.2 L523.9 485 L523.1 478.6 L522.2 472.1 L521.3 465.5 L520.3 458.7 L519.2 451.8 L518 444.7 L516.8 437.4 L515.4 429.9 L513.9 422.2 L512.3 414.3 L510.6 406.2 L508.7 397.8 L506.6 389.2 L504.3 380.3 L501.8 371.2 L499.1 361.7 M571.3 708.8 L571.4 705.9 L571.4 703 L571.5 700.1 L571.5 697.1 L571.6 694 L571.6 691 L571.7 687.9 L571.7 684.8 L571.8 681.6 L571.8 678.5 L571.9 675.2 L571.9 672 L572 668.7 L572 665.4 L572.1 662 L572.2 658.6 L572.2 655.1 L572.3 651.6 L572.3 648.1 L572.4 644.5 L572.4 640.9 L572.5 637.2 L572.6 633.5 L572.6 629.7 L572.7 625.9 L572.7 622 L572.8 618.1 L572.8 614.1 L572.9 610.1 L573 606 L573 601.9 L573.1 597.6 L573.1 593.4 L573.2 589 L573.2 584.6 L573.3 580.2 L573.3 575.6 L573.4 571 L573.4 566.3 L573.4 561.6 L573.5 556.7 L573.5 551.8 L573.5 546.8 L573.5 541.7 L573.5 536.5 L573.5 531.2 L573.5 525.8 L573.5 520.3 L573.5 514.7 L573.5 509 L573.4 503.2 L573.4 497.2 L573.3 491.2 L573.2 485 L573.1 478.6 L573 472.1 L572.8 465.5 L572.7 458.7 L572.5 451.8 L572.2 444.7 L572 437.4 L571.7 429.9 L571.3 422.2 L570.9 414.3 L570.5 406.2 L569.9 397.8 L569.3 389.2 L568.7 380.3 L567.9 371.2 L567 361.7" stroke="#0a6a0a" stroke-width="1.1"/>
<path d="M-819.7 723.5 L-327.9 44 M-752.4 723.5 L-260.6 44 M-685.1 723.5 L-193.2 44 M-617.7 723.5 L-125.9 44 M-550.4 723.5 L-58.6 44 M-483 723.5 L8.8 44 M-415.7 723.5 L76.1 44 M-348.4 723.5 L143.5 44 M-281 723.5 L210.8 44 M-213.7 723.5 L278.1 44 M-146.3 723.5 L345.5 44 M-79 723.5 L412.8 44 M-11.7 723.5 L480.2 44 M55.7 723.5 L547.5 44 M123 723.5 L614.8 44 M190.4 723.5 L682.2 44 M257.7 723.5 L749.5 44 M392.4 723.5 L884.2 44 M459.7 723.5 L951.5 44 M527.1 723.5 L1018.9 44 M594.4 723.5 L1086.2 44" stroke="#3a5cff" stroke-width="1.1"/>
<path d="M340.7 444.7 L324.7 478.6 L310.6 509 L297.8 536.5 L286.3 561.6 L275.7 584.6 L265.9 606 L256.9 625.9 L248.5 644.5 L240.6 662 L233.2 678.5 L226.2 694 L219.6 708.8 L213.3 722.9 M393.2 444.7 L377.9 478.6 L364.4 509 L352.2 536.5 L341.1 561.6 L330.9 584.6 L321.6 606 L313 625.9 L304.9 644.5 L297.4 662 L290.3 678.5 L283.7 694 L277.4 708.8 L271.4 722.9 M425.8 444.7 L410.9 478.6 L397.7 509 L385.8 536.5 L375.1 561.6 L365.2 584.6 L356.2 606 L347.8 625.9 L340 644.5 L332.7 662 L325.9 678.5 L319.4 694 L313.3 708.8 L307.6 722.9 M449.8 444.7 L435.2 478.6 L422.3 509 L410.7 536.5 L400.2 561.6 L390.5 584.6 L381.7 606 L373.5 625.9 L365.9 644.5 L358.8 662 L352.1 678.5 L345.8 694 L339.9 708.8 L334.2 722.9 M485 444.7 L470.9 478.6 L458.4 509 L447.1 536.5 L436.9 561.6 L427.6 584.6 L419.1 606 L411.2 625.9 L403.8 644.5 L397 662 L390.6 678.5 L384.5 694 L378.8 708.8 L373.4 722.9 M511 444.7 L497.2 478.6 L485 509 L474 536.5 L464.1 561.6 L455.1 584.6 L446.8 606 L439.1 625.9 L431.9 644.5 L425.3 662 L419 678.5 L413.1 694 L407.6 708.8 L402.4 722.9 M531.8 444.7 L518.3 478.6 L506.3 509 L495.6 536.5 L485.9 561.6 L477 584.6 L468.9 606 L461.4 625.9 L454.4 644.5 L447.9 662 L441.8 678.5 L436 694 L430.6 708.8 L425.5 722.9 M571 444.7 L558 478.6 L546.5 509 L536.2 536.5 L526.9 561.6 L518.5 584.6 L510.7 606 L503.5 625.9 L496.8 644.5 L490.6 662 L484.8 678.5 L479.4 694 L474.2 708.8 L469.4 722.9 M600.1 444.7 L587.5 478.6 L576.4 509 L566.4 536.5 L557.4 561.6 L549.2 584.6 L541.7 606 L534.7 625.9 L528.3 644.5 L522.3 662 L516.7 678.5 L511.5 694 L506.5 708.8 L501.9 722.9 M623.5 444.7 L611.2 478.6 L600.3 509 L590.6 536.5 L581.8 561.6 L573.8 584.6 L566.5 606 L559.8 625.9 L553.6 644.5 L547.8 662 L542.3 678.5 L537.3 694 L532.5 708.8 L527.9 722.9 M643.1 444.7 L631 478.6 L620.4 509 L610.9 536.5 L602.3 561.6 L594.5 584.6 L587.4 606 L580.9 625.9 L574.8 644.5 L569.1 662 L563.8 678.5 L558.9 694 L554.2 708.8 L549.8 722.9 M660 444.7 L648.2 478.6 L637.8 509 L628.5 536.5 L620.1 561.6 L612.5 584.6 L605.5 606 L599.1 625.9 L593.1 644.5 L587.6 662 L582.5 678.5 L577.6 694 L573.1 708.8 L568.8 722.9 M675 444.7 L663.4 478.6 L653.1 509 L644 536.5 L635.8 561.6 L628.3 584.6 L621.5 606 L615.2 625.9 L609.4 644.5 L603.9 662 L598.9 678.5 L594.2 694 L589.7 708.8 L585.6 722.9" stroke="#a010e0" stroke-width="1.1" stroke-dasharray="3.2 2.2"/>
<path d="M324.3 724.5 L633.4 300" stroke="#2040ff" stroke-width="3"/>
</g>
<path d="M60 244.8 H605 M60 361.7 H605 M60 444.7 H605 M60 509 H605 M60 561.6 H605 M60 606 H605 M60 644.5 H605 M60 678.5 H605 M60 708.8 H605 M60 45 H65" stroke="#000" stroke-width="2" fill="none"/>
<rect x="65" y="45" width="540" height="677.5" fill="none" stroke="#000" stroke-width="2"/>
<g fill="none" stroke-linejoin="round" stroke-linecap="round">
<path d="M397 44.7 L391 60 L383.8 76.5 L378 106.4 L362.4 135.1 L340.3 163.7 L335.1 190.3 L312.9 216.6 L284.3 237.9 L280.6 243.4 L262.4 268.2 L255.9 296.8 L267.6 324.2 L291 358 L304.1 381.5 L318.4 403.6 L328.1 427 L342.2 446.9 L368 482 L385.5 507.8 L406.6 546.5 L414.8 561.7 L419.6 570.4 L427.9 585 L434.2 605.8 L435.2 622.5 L437.3 629.8 L447.7 644.4 L451.9 655.8 L463.3 676.7 L461.2 679.8 L413.3 689.2 L386.2 693.3 L380 693.4 L352.8 695.2 L353.4 697.5 L360.4 701.6" stroke="#ff4040" stroke-width="4.8"/>
<path d="M165.5 242.1 L183 266.9 L208.2 296.8 L215.5 323.6 L188.2 352.8 L163.4 377.6 L134.7 403.4 L188.1 419.1 L212.9 427.4 L245.4 449 L245.4 469.8 L232.4 489.4 L210.3 507.6 L203.8 527.1 L209.7 542.8 L204.3 558.4 L230.8 572.9 L216.5 586.5 L239.9 598.2 L243.8 609.4 L269.8 620.3 L275.1 630.7 L264.6 645 L290.7 655.5 L294.6 667.2 L288.1 673.7 L260.7 678.1 L294.6 680.2 L351.1 689.9 L348.1 692.3 L339.3 694.6 L338.8 698.1 L339.9 701 L343.1 701.9" stroke="#00dd00" stroke-width="5"/>
</g>
<g font-family="Liberation Sans, sans-serif">
<text x="55.3" y="50.7" font-size="16" fill="#000" text-anchor="end" font-weight="normal" >100</text>
<text x="55.3" y="250.5" font-size="16" fill="#000" text-anchor="end" font-weight="normal" >200</text>
<text x="55.3" y="367.4" font-size="16" fill="#000" text-anchor="end" font-weight="normal" >300</text>
<text x="55.3" y="450.4" font-size="16" fill="#000" text-anchor="end" font-weight="normal" >400</text>
<text x="55.3" y="514.7" font-size="16" fill="#000" text-anchor="end" font-weight="normal" >500</text>
<text x="55.3" y="567.3" font-size="16" fill="#000" text-anchor="end" font-weight="normal" >600</text>
<text x="55.3" y="611.7" font-size="16" fill="#000" text-anchor="end" font-weight="normal" >700</text>
<text x="55.3" y="650.2" font-size="16" fill="#000" text-anchor="end" font-weight="normal" >800</text>
<text x="55.3" y="684.2" font-size="16" fill="#000" text-anchor="end" font-weight="normal" >900</text>
<text x="55.3" y="714.5" font-size="16" fill="#000" text-anchor="end" font-weight="normal" >1000</text>
<text x="138.9" y="743" font-size="19" fill="#4a6aff" text-anchor="end" font-weight="normal" textLength="24" lengthAdjust="spacingAndGlyphs" >30</text>
<path d="M96.7 736.7 H109.4" stroke="#4a6aff" stroke-width="1.5"/>
<text x="206.9" y="743" font-size="19" fill="#4a6aff" text-anchor="end" font-weight="normal" textLength="24" lengthAdjust="spacingAndGlyphs" >20</text>
<path d="M164.7 736.7 H177.4" stroke="#4a6aff" stroke-width="1.5"/>
<text x="274" y="743" font-size="19" fill="#4a6aff" text-anchor="end" font-weight="normal" textLength="22" lengthAdjust="spacingAndGlyphs" >10</text>
<path d="M231.8 736.7 H244.5" stroke="#4a6aff" stroke-width="1.5"/>
<text x="320.3" y="743" font-size="19" fill="#4a6aff" text-anchor="middle" font-weight="normal" textLength="10.7" lengthAdjust="spacingAndGlyphs" >0</text>
<text x="388.8" y="743" font-size="19" fill="#4a6aff" text-anchor="middle" font-weight="normal" textLength="22.5" lengthAdjust="spacingAndGlyphs" >10</text>
<text x="455.8" y="743" font-size="19" fill="#4a6aff" text-anchor="middle" font-weight="normal" textLength="23.5" lengthAdjust="spacingAndGlyphs" >20</text>
<text x="523.5" y="743" font-size="19" fill="#4a6aff" text-anchor="middle" font-weight="normal" textLength="23.5" lengthAdjust="spacingAndGlyphs" >30</text>
<text x="590" y="743" font-size="19" fill="#4a6aff" text-anchor="middle" font-weight="normal" textLength="23.5" lengthAdjust="spacingAndGlyphs" >40</text>
<text x="246.6" y="761" font-size="17.5" fill="#2a48f0" text-anchor="start" font-weight="normal" textLength="158" lengthAdjust="spacing" stroke="#2a48f0" stroke-width="0.35">Temperature (°C)</text>
<text x="126.8" y="16" font-size="20" fill="#111" text-anchor="start" font-weight="normal" textLength="491" lengthAdjust="spacing" >2025121600 NAM BUFR Sounding for KDSM</text>
<text x="163" y="38.6" font-size="20" fill="#111" text-anchor="start" font-weight="normal" textLength="422" lengthAdjust="spacing" >18h forecast valid 2025121618 (Tue)</text>
<text transform="translate(20.8,439.6) rotate(-90)" font-size="17" fill="#000" stroke="#000" stroke-width="0.3" textLength="120" lengthAdjust="spacing">Pressure (mb)</text>
<text transform="translate(649.7,583.6) rotate(-90)" font-size="17.5" fill="#a020d0" stroke="#a020d0" stroke-width="0.3" textLength="174.5" lengthAdjust="spacing">Mixing Ratio (g/kg)</text>
<text x="343.4" y="440.3" font-size="12.5" fill="#a020d0" text-anchor="middle" font-weight="normal" >1</text>
<text x="397.3" y="440.3" font-size="12.5" fill="#a020d0" text-anchor="middle" font-weight="normal" >2</text>
<text x="430.1" y="440.3" font-size="12.5" fill="#a020d0" text-anchor="middle" font-weight="normal" >3</text>
<text x="453.5" y="440.3" font-size="12.5" fill="#a020d0" text-anchor="middle" font-weight="normal" >4</text>
<text x="489.4" y="440.3" font-size="12.5" fill="#a020d0" text-anchor="middle" font-weight="normal" >6</text>
<text x="515.6" y="440.3" font-size="12.5" fill="#a020d0" text-anchor="middle" font-weight="normal" >8</text>
<text x="540.9" y="440.3" font-size="12.5" fill="#a020d0" text-anchor="middle" font-weight="normal" >10</text>
<text x="580" y="440.3" font-size="12.5" fill="#a020d0" text-anchor="middle" font-weight="normal" >15</text>
<text x="609.9" y="440.3" font-size="12.5" fill="#a020d0" text-anchor="middle" font-weight="normal" >20</text>
<text x="620.5" y="503" font-size="12" fill="#a020d0" text-anchor="middle" font-weight="normal" textLength="15" lengthAdjust="spacingAndGlyphs" >25</text>
<text x="620.5" y="561.6" font-size="12" fill="#a020d0" text-anchor="middle" font-weight="normal" textLength="15" lengthAdjust="spacingAndGlyphs" >30</text>
<text x="620.5" y="616.3" font-size="12" fill="#a020d0" text-anchor="middle" font-weight="normal" textLength="15" lengthAdjust="spacingAndGlyphs" >35</text>
<text x="620.5" y="665.4" font-size="12" fill="#a020d0" text-anchor="middle" font-weight="normal" textLength="15" lengthAdjust="spacingAndGlyphs" >40</text>
<text x="556.8" y="760.8" font-size="18" fill="#ff5050" text-anchor="start" font-weight="normal" textLength="187.3" lengthAdjust="spacing" >coolwx.com/models</text>
</g>
<path d="M698.3 44.5 V722.6" stroke="#555" stroke-width="1.6" fill="none"/>
<g stroke="#80ff00" fill="#80ff00"><path d="M698.3 75.8 L664.6 75.8 M664.6 75.8 l-0 -11.5 M669.4 75.8 l-0 -11.5 M674.2 75.8 l-0 -11.5 M679 75.8 l-0 -11.5 M683.8 75.8 l-0 -6.5" stroke-width="1.6" fill="none"/><rect x="696.6" y="74.1" width="3.4" height="3.4" stroke="none"/></g>
<g stroke="#a0ff20" fill="#a0ff20"><path d="M698.3 107.1 L664.6 98.8" stroke-width="1.6" fill="none"/><path d="M664.6 98.8 L668.3 99.7 L670.5 90.9 Z" stroke-width="1"/><rect x="696.6" y="105.4" width="3.4" height="3.4" stroke="none"/></g>
<g stroke="#a8f000" fill="#a8f000"><path d="M698.3 136.5 L664.6 127.1 M674.2 129.8 l1.7 -6.3" stroke-width="1.6" fill="none"/><path d="M664.6 127.1 L668.3 128.1 L670.7 119.5 Z" stroke-width="1"/><rect x="696.6" y="134.8" width="3.4" height="3.4" stroke="none"/></g>
<g stroke="#90f000" fill="#90f000"><path d="M698.3 163.7 L665.5 158.5 M665.5 158.5 l1.8 -11.4 M670.2 159.3 l1.8 -11.4 M675 160 l1.8 -11.4 M679.7 160.8 l1.8 -11.4 M684.5 161.5 l1 -6.4" stroke-width="1.6" fill="none"/><rect x="696.6" y="162" width="3.4" height="3.4" stroke="none"/></g>
<g stroke="#00f040" fill="#00f040"><path d="M698.3 190.4 L668.8 175.7 M668.8 175.7 l5.1 -10.3 M673.1 177.8 l5.1 -10.3 M677.4 180 l5.1 -10.3 M681.7 182.1 l5.1 -10.3" stroke-width="1.6" fill="none"/><rect x="696.6" y="188.7" width="3.4" height="3.4" stroke="none"/></g>
<g stroke="#a0f000" fill="#a0f000"><path d="M698.3 216.5 L664.6 209.4" stroke-width="1.6" fill="none"/><path d="M664.6 209.4 L668.3 210.2 L670.2 201.4 Z" stroke-width="1"/><rect x="696.6" y="214.8" width="3.4" height="3.4" stroke="none"/></g>
<g stroke="#80f000" fill="#80f000"><path d="M698.3 243.1 L664.6 243.1 M664.6 243.1 l-0 -11.5 M669.4 243.1 l-0 -11.5 M674.2 243.1 l-0 -11.5 M679 243.1 l-0 -11.5 M683.8 243.1 l-0 -6.5" stroke-width="1.6" fill="none"/><rect x="696.6" y="241.4" width="3.4" height="3.4" stroke="none"/></g>
<g stroke="#70f000" fill="#70f000"><path d="M698.3 269.6 L665 273.1 M665 273.1 l-1.2 -11.4 M669.8 272.6 l-1.2 -11.4 M674.5 272.1 l-1.2 -11.4 M679.3 271.6 l-1.2 -11.4" stroke-width="1.6" fill="none"/><rect x="696.6" y="267.9" width="3.4" height="3.4" stroke="none"/></g>
<g stroke="#30f030" fill="#30f030"><path d="M698.3 296.6 L665.5 303 M665.5 303 l-2.2 -11.3 M670.2 302.1 l-2.2 -11.3 M674.9 301.2 l-2.2 -11.3 M679.6 300.2 l-2.2 -11.3" stroke-width="1.6" fill="none"/><rect x="696.6" y="294.9" width="3.4" height="3.4" stroke="none"/></g>
<g stroke="#20f040" fill="#20f040"><path d="M698.3 323.5 L665.2 327 M665.2 327 l-1.2 -11.4 M670 326.5 l-1.2 -11.4 M674.7 326 l-1.2 -11.4 M679.5 325.5 l-1.2 -11.4" stroke-width="1.6" fill="none"/><rect x="696.6" y="321.8" width="3.4" height="3.4" stroke="none"/></g>
<g stroke="#20f040" fill="#20f040"><path d="M698.3 351.1 L665.2 355 M665.2 355 l-1.3 -11.4 M670 354.4 l-1.3 -11.4 M674.7 353.9 l-1.3 -11.4 M679.5 353.3 l-1.3 -11.4" stroke-width="1.6" fill="none"/><rect x="696.6" y="349.4" width="3.4" height="3.4" stroke="none"/></g>
<g stroke="#20f050" fill="#20f050"><path d="M698.3 378 L665.8 384.7 M665.8 384.7 l-2.3 -11.3 M670.5 383.7 l-2.3 -11.3 M675.2 382.8 l-2.3 -11.3 M679.9 381.8 l-2.3 -11.3" stroke-width="1.6" fill="none"/><rect x="696.6" y="376.3" width="3.4" height="3.4" stroke="none"/></g>
<g stroke="#60f000" fill="#60f000"><path d="M698.3 403.2 L666.4 411.7 M666.4 411.7 l-3 -11.1 M671 410.5 l-3 -11.1 M675.7 409.2 l-3 -11.1 M680.3 408 l-3 -11.1" stroke-width="1.6" fill="none"/><rect x="696.6" y="401.5" width="3.4" height="3.4" stroke="none"/></g>
<g stroke="#40f030" fill="#40f030"><path d="M698.3 427.2 L666.2 436.8 M666.2 436.8 l-3.3 -11 M670.8 435.4 l-3.3 -11 M675.4 434 l-3.3 -11 M680 432.7 l-3.3 -11" stroke-width="1.6" fill="none"/><rect x="696.6" y="425.5" width="3.4" height="3.4" stroke="none"/></g>
<g stroke="#60f000" fill="#60f000"><path d="M698.3 449.9 L665.2 451.7 M665.2 451.7 l-0.6 -11.5 M670 451.4 l-0.6 -11.5 M674.8 451.2 l-0.6 -11.5 M679.6 450.9 l-0.6 -11.5 M684.4 450.7 l-0.4 -6.5" stroke-width="1.6" fill="none"/><rect x="696.6" y="448.2" width="3.4" height="3.4" stroke="none"/></g>
<g stroke="#a0f000" fill="#a0f000"><path d="M698.3 470.9 L665.2 473.6 M665.2 473.6 l-0.9 -11.5 M670 473.2 l-0.9 -11.5 M674.8 472.8 l-0.9 -11.5 M679.6 472.4 l-0.9 -11.5 M684.3 472 l-0.5 -6.5" stroke-width="1.6" fill="none"/><rect x="696.6" y="469.2" width="3.4" height="3.4" stroke="none"/></g>
<g stroke="#60f000" fill="#60f000"><path d="M698.3 490.7 L665.2 493.1 M665.2 493.1 l-0.8 -11.5 M670 492.8 l-0.8 -11.5 M674.8 492.4 l-0.8 -11.5 M679.6 492.1 l-0.8 -11.5 M684.3 491.7 l-0.5 -6.5" stroke-width="1.6" fill="none"/><rect x="696.6" y="489" width="3.4" height="3.4" stroke="none"/></g>
<g stroke="#50f000" fill="#50f000"><path d="M698.3 509.5 L665.2 510.6 M665.2 510.6 l-0.4 -11.5 M670 510.4 l-0.4 -11.5 M674.8 510.3 l-0.4 -11.5 M679.6 510.1 l-0.4 -11.5" stroke-width="1.6" fill="none"/><rect x="696.6" y="507.8" width="3.4" height="3.4" stroke="none"/></g>
<g stroke="#00f060" fill="#00f060"><path d="M698.3 526.6 L665.2 527.8 M665.2 527.8 l-0.4 -11.5 M670 527.6 l-0.4 -11.5 M674.8 527.5 l-0.4 -11.5 M679.6 527.3 l-0.4 -11.5" stroke-width="1.6" fill="none"/><rect x="696.6" y="524.9" width="3.4" height="3.4" stroke="none"/></g>
<g stroke="#00f070" fill="#00f070"><path d="M698.3 542.8 L664.6 545 M664.6 545 l-0.7 -11.5 M669.4 544.7 l-0.7 -11.5 M674.2 544.4 l-0.7 -11.5 M679 544.1 l-0.4 -6.5" stroke-width="1.6" fill="none"/><rect x="696.6" y="541.1" width="3.4" height="3.4" stroke="none"/></g>
<g stroke="#00f080" fill="#00f080"><path d="M698.3 558.3 L664.6 559.2 M664.6 559.2 l-0.3 -11.5 M669.4 559.1 l-0.3 -11.5 M674.2 558.9 l-0.3 -11.5" stroke-width="1.6" fill="none"/><rect x="696.6" y="556.6" width="3.4" height="3.4" stroke="none"/></g>
<g stroke="#00f090" fill="#00f090"><path d="M698.3 572.4 L665.2 571.9 M665.2 571.9 l0.2 -11.5 M670 572 l0.2 -11.5 M674.8 572 l0.1 -6.5" stroke-width="1.6" fill="none"/><rect x="696.6" y="570.7" width="3.4" height="3.4" stroke="none"/></g>
<g stroke="#00f090" fill="#00f090"><path d="M698.3 586.5 L665.2 583.3 M665.2 583.3 l1.1 -11.4 M670 583.8 l1.1 -11.4 M674.8 584.2 l0.6 -6.5" stroke-width="1.6" fill="none"/><rect x="696.6" y="584.8" width="3.4" height="3.4" stroke="none"/></g>
<g stroke="#10f0a0" fill="#10f0a0"><path d="M698.3 598.7 L665 596.4 M665 596.4 l0.8 -11.5 M669.8 596.7 l0.8 -11.5 M674.6 597.1 l0.4 -6.5" stroke-width="1.6" fill="none"/><rect x="696.6" y="597" width="3.4" height="3.4" stroke="none"/></g>
<g stroke="#00f090" fill="#00f090"><path d="M698.3 610.5 L665 609.6 M665 609.6 l0.3 -11.5 M669.8 609.7 l0.3 -11.5 M674.6 609.9 l0.2 -6.5" stroke-width="1.6" fill="none"/><rect x="696.6" y="608.8" width="3.4" height="3.4" stroke="none"/></g>
<g stroke="#00f0c0" fill="#00f0c0"><path d="M698.3 620.5 L665 621.4 M665 621.4 l-0.3 -11.5 M669.8 621.3 l-0.3 -11.5 M674.6 621.1 l-0.2 -6.5" stroke-width="1.6" fill="none"/><rect x="696.6" y="618.8" width="3.4" height="3.4" stroke="none"/></g>
<g stroke="#00f0c0" fill="#00f0c0"><path d="M698.3 630.1 L664.1 632.8 M664.1 632.8 l-0.9 -11.5 M668.9 632.4 l-0.9 -11.5 M673.7 632 l-0.5 -6.5" stroke-width="1.6" fill="none"/><rect x="696.6" y="628.4" width="3.4" height="3.4" stroke="none"/></g>
<g stroke="#00f0c0" fill="#00f0c0"><path d="M698.3 638.3 L664.1 642.4 M664.1 642.4 l-1.4 -11.4 M668.9 641.8 l-1.4 -11.4 M673.6 641.3 l-0.8 -6.5" stroke-width="1.6" fill="none"/><rect x="696.6" y="636.6" width="3.4" height="3.4" stroke="none"/></g>
<g stroke="#00f0c0" fill="#00f0c0"><path d="M698.3 646.3 L664.7 650.3 M664.7 650.3 l-1.4 -11.4 M669.5 649.7 l-1.4 -11.4 M674.3 649.2 l-0.8 -6.5" stroke-width="1.6" fill="none"/><rect x="696.6" y="644.6" width="3.4" height="3.4" stroke="none"/></g>
<g stroke="#00f0c0" fill="#00f0c0"><path d="M698.3 651.8 L664.7 655.8 M664.7 655.8 l-1.4 -11.4 M669.5 655.2 l-1.4 -11.4 M674.3 654.7 l-0.8 -6.5" stroke-width="1.6" fill="none"/><rect x="696.6" y="650.1" width="3.4" height="3.4" stroke="none"/></g>
<g stroke="#00f0c0" fill="#00f0c0"><path d="M698.3 657 L664.9 662 M664.9 662 l-1.7 -11.4 M669.6 661.3 l-1.7 -11.4 M674.4 660.6 l-1 -6.4" stroke-width="1.6" fill="none"/><rect x="696.6" y="655.3" width="3.4" height="3.4" stroke="none"/></g>
<g stroke="#00f0d0" fill="#00f0d0"><path d="M698.3 661.3 L665 667.3 M665 667.3 l-2 -11.3 M669.8 666.4 l-2 -11.3 M674.5 665.6 l-1.2 -6.4" stroke-width="1.6" fill="none"/><rect x="696.6" y="659.6" width="3.4" height="3.4" stroke="none"/></g>
<g stroke="#00f0d0" fill="#00f0d0"><path d="M698.3 665.8 L665.2 672.8 M665.2 672.8 l-2.4 -11.3 M669.9 671.8 l-2.4 -11.3 M674.6 670.8 l-1.3 -6.4" stroke-width="1.6" fill="none"/><rect x="696.6" y="664.1" width="3.4" height="3.4" stroke="none"/></g>
<g stroke="#00e8f0" fill="#00e8f0"><path d="M698.3 669.7 L665.5 677.7 M665.5 677.7 l-2.7 -11.2 M670.1 676.6 l-2.7 -11.2 M674.8 675.4 l-1.5 -6.3" stroke-width="1.6" fill="none"/><rect x="696.6" y="668" width="3.4" height="3.4" stroke="none"/></g>
<g stroke="#00e8ff" fill="#00e8ff"><path d="M698.3 673.6 L665.6 682.1 M665.6 682.1 l-2.9 -11.1 M670.2 680.9 l-2.9 -11.1 M674.9 679.7 l-1.6 -6.3" stroke-width="1.6" fill="none"/><rect x="696.6" y="671.9" width="3.4" height="3.4" stroke="none"/></g>
<g stroke="#00e8ff" fill="#00e8ff"><path d="M698.3 676.5 L665.7 685.5 M665.7 685.5 l-3.1 -11.1 M670.3 684.2 l-3.1 -11.1 M675 682.9 l-1.7 -6.3" stroke-width="1.6" fill="none"/><rect x="696.6" y="674.8" width="3.4" height="3.4" stroke="none"/></g>
<g stroke="#00e8ff" fill="#00e8ff"><path d="M698.3 679.5 L665.9 689 M665.9 689 l-3.2 -11 M670.5 687.7 l-3.2 -11 M675.1 686.3 l-1.8 -6.2" stroke-width="1.6" fill="none"/><rect x="696.6" y="677.8" width="3.4" height="3.4" stroke="none"/></g>
<g stroke="#00e8ff" fill="#00e8ff"><path d="M698.3 682.3 L666 692.3 M666 692.3 l-3.4 -11 M670.6 690.9 l-3.4 -11 M675.2 689.5 l-1.9 -6.2" stroke-width="1.6" fill="none"/><rect x="696.6" y="680.6" width="3.4" height="3.4" stroke="none"/></g>
<g stroke="#00e8ff" fill="#00e8ff"><path d="M698.3 685 L666.2 695.5 M666.2 695.5 l-3.6 -10.9 M670.7 694 l-3.6 -10.9 M675.3 692.5 l-2 -6.2" stroke-width="1.6" fill="none"/><rect x="696.6" y="683.3" width="3.4" height="3.4" stroke="none"/></g>
<g stroke="#00f0d0" fill="#00f0d0"><path d="M698.3 686.2 L666.3 697 M666.3 697 l-3.7 -10.9 M670.8 695.5 l-3.7 -10.9 M675.4 693.9 l-2.1 -6.2" stroke-width="1.6" fill="none"/><rect x="696.6" y="684.5" width="3.4" height="3.4" stroke="none"/></g>
<g stroke="#00f0c0" fill="#00f0c0"><path d="M698.3 687.5 L666.3 698.5 M666.3 698.5 l-3.7 -10.9 M670.9 696.9 l-3.7 -10.9 M675.4 695.4 l-2.1 -6.1" stroke-width="1.6" fill="none"/><rect x="696.6" y="685.8" width="3.4" height="3.4" stroke="none"/></g>
<g stroke="#00ffa0" fill="#00ffa0"><path d="M698.3 688.8 L666.5 700.3 M666.5 700.3 l-3.9 -10.8 M671 698.7 l-3.9 -10.8 M675.5 697 l-2.2 -6.1" stroke-width="1.6" fill="none"/><rect x="696.6" y="687.1" width="3.4" height="3.4" stroke="none"/></g>
<g stroke="#00ff90" fill="#00ff90"><path d="M698.3 690 L666.7 702 M666.7 702 l-4.1 -10.8 M671.2 700.3 l-4.1 -10.8 M675.7 698.6 l-2.3 -6.1" stroke-width="1.6" fill="none"/><rect x="696.6" y="688.3" width="3.4" height="3.4" stroke="none"/></g>
<g stroke="#00ff90" fill="#00ff90"><path d="M698.3 691.2 L666.9 703.7 M666.9 703.7 l-4.3 -10.7 M671.4 701.9 l-4.3 -10.7 M675.8 700.1 l-2.4 -6" stroke-width="1.6" fill="none"/><rect x="696.6" y="689.5" width="3.4" height="3.4" stroke="none"/></g>
<g stroke="#00ff90" fill="#00ff90"><path d="M698.3 692.3 L667.1 705.3 M667.1 705.3 l-4.4 -10.6 M671.5 703.5 l-4.4 -10.6 M676 701.6 l-2.5 -6" stroke-width="1.6" fill="none"/><rect x="696.6" y="690.6" width="3.4" height="3.4" stroke="none"/></g>
<g stroke="#00ff90" fill="#00ff90"><path d="M698.3 693.4 L667.3 706.9 M667.3 706.9 l-4.6 -10.5 M671.7 705 l-4.6 -10.5 M676.1 703.1 l-2.6 -6" stroke-width="1.6" fill="none"/><rect x="696.6" y="691.7" width="3.4" height="3.4" stroke="none"/></g>
<g stroke="#00ff90" fill="#00ff90"><path d="M698.3 694.5 L667.5 708.5 M667.5 708.5 l-4.8 -10.5 M671.9 706.5 l-4.8 -10.5 M676.3 704.5 l-2.7 -5.9" stroke-width="1.6" fill="none"/><rect x="696.6" y="692.8" width="3.4" height="3.4" stroke="none"/></g>
<g stroke="#00ff90" fill="#00ff90"><path d="M698.3 695.5 L668 710.5 M668 710.5 l-5.1 -10.3 M672.3 708.4 l-5.1 -10.3 M676.6 706.2 l-2.9 -5.8" stroke-width="1.6" fill="none"/><rect x="696.6" y="693.8" width="3.4" height="3.4" stroke="none"/></g>
<g stroke="#00ff90" fill="#00ff90"><path d="M698.3 696.5 L668.5 712.5 M668.5 712.5 l-5.4 -10.1 M672.8 710.2 l-5.4 -10.1 M677 708 l-3.1 -5.7" stroke-width="1.6" fill="none"/><rect x="696.6" y="694.8" width="3.4" height="3.4" stroke="none"/></g>
<g stroke="#00ffa0" fill="#00ffa0"><path d="M698.3 697.4 L669.4 714.9 M669.4 714.9 l-6 -9.8 M673.5 712.4 l-6 -9.8 M677.6 709.9 l-3.4 -5.6" stroke-width="1.6" fill="none"/><rect x="696.6" y="695.7" width="3.4" height="3.4" stroke="none"/></g>
<g stroke="#00f8b0" fill="#00f8b0"><path d="M698.3 698.3 L670.3 717.3 M670.3 717.3 l-6.5 -9.5 M674.3 714.6 l-6.5 -9.5" stroke-width="1.6" fill="none"/><rect x="696.6" y="696.6" width="3.4" height="3.4" stroke="none"/></g>
<g stroke="#00f0e0" fill="#00f0e0"><path d="M698.3 699.5 L670.3 718.4 M670.3 718.4 l-6.4 -9.5 M674.3 715.7 l-6.4 -9.5" stroke-width="1.6" fill="none"/><rect x="696.6" y="697.8" width="3.4" height="3.4" stroke="none"/></g>
<g stroke="#00e0ff" fill="#00e0ff"><path d="M698.3 700.3 L675.2 725 M675.2 725 l-8.4 -7.8 M678.5 721.5 l-8.4 -7.8" stroke-width="1.6" fill="none"/><rect x="696.6" y="698.6" width="3.4" height="3.4" stroke="none"/></g>
<g stroke="#10b8ff" fill="#10b8ff"><path d="M698.3 701 L683 731.1 M683 731.1 l-10.2 -5.2 M685.1 726.8 l-10.2 -5.2" stroke-width="3.0" fill="none"/><rect x="696.6" y="699.3" width="3.4" height="3.4" stroke="none"/></g>
<g stroke="#20a0ff" fill="#20a0ff"><path d="M698.3 701.7 L688.4 734 M688.4 734 l-11 -3.4 M689.8 729.4 l-6.2 -1.9" stroke-width="3.0" fill="none"/><rect x="696.6" y="700" width="3.4" height="3.4" stroke="none"/></g>
<g fill="none" stroke="#000">
<g clip-path="url(#hc)">
<ellipse cx="838" cy="135.5" rx="31.2" ry="30.3" stroke-width="1.3"/>
<ellipse cx="838" cy="135.5" rx="62.2" ry="60.5" stroke-width="1.3"/>
<ellipse cx="838" cy="135.5" rx="92.6" ry="90" stroke-width="1.3"/>
</g>
<rect x="745" y="45" width="186" height="181" stroke-width="1.8"/>
<path d="M745 135.5 H931 M838 45 V226" stroke-width="1.4"/>
<path d="M755.4 132.5 v6 M835 55.2 h6 M765.7 132.5 v6 M835 65.2 h6 M776 132.5 v6 M835 75.3 h6 M786.4 132.5 v6 M835 85.3 h6 M796.7 132.5 v6 M835 95.3 h6 M807 132.5 v6 M835 105.4 h6 M817.3 132.5 v6 M835 115.4 h6 M827.7 132.5 v6 M835 125.5 h6 M848.3 132.5 v6 M835 145.5 h6 M858.7 132.5 v6 M835 155.6 h6 M869 132.5 v6 M835 165.6 h6 M879.3 132.5 v6 M835 175.7 h6 M889.6 132.5 v6 M835 185.7 h6 M900 132.5 v6 M835 195.7 h6 M910.3 132.5 v6 M835 205.8 h6 M920.6 132.5 v6 M835 215.8 h6" stroke-width="1.3"/>
</g>
<g font-family="Liberation Sans, sans-serif" font-size="13" fill="#000" stroke="#fff" stroke-width="3" paint-order="stroke">
<text transform="translate(817,154.9) rotate(-45)" text-anchor="middle" y="4.5">15</text>
<text transform="translate(793.6,178.3) rotate(-45)" text-anchor="middle" y="4.5">30</text>
<text transform="translate(772.8,199.1) rotate(-45)" text-anchor="middle" y="4.5">45</text>
</g>
<text x="750" y="59" font-size="13" fill="#000" font-family="Liberation Sans, sans-serif" textLength="37" lengthAdjust="spacingAndGlyphs">knots</text>
<path d="M843.1 118.9 L847.6 110.6 L850.9 108.5 L867.9 100.7 L883.5 98.8 L888.7 99.6 L890.8 104.8 L888.7 113.2 L880.9 118.4 L875.7 120.5 L877 123.1 L884.8 127.5 L888.7 132.7 L891.9 140.5" fill="none" stroke="#00cc00" stroke-width="2.6" stroke-linejoin="round"/>
<circle cx="843.1" cy="118.9" r="2.6" fill="#00cc00"/>
<circle cx="884.8" cy="127.5" r="2.6" fill="#00cc00"/>
<circle cx="891.9" cy="140.5" r="2.6" fill="#00cc00"/>
<path d="M838 135.5 L884.8 147.4" stroke="#ff4040" stroke-width="1.5"/>
<path d="M890.8 148.9 L880.1 150.3 L882.1 142.6 Z" fill="#ff4040"/>
<g fill="none" stroke="#222" stroke-width="1.5"><rect x="768" y="270.9" width="158.2" height="402.3"/><path d="M768 329.8 H926.2 M768 456.5 H926.2 M768 581.8 H926.2"/></g>
<g font-family="Liberation Sans, sans-serif" fill="#111" font-size="12.4">
<text x="773.2" y="288.6" font-size="13" fill="#1a1a1a" text-anchor="start" font-weight="normal" >K</text>
<text x="871" y="288.6" font-size="13" fill="#1a1a1a" text-anchor="start" font-weight="normal" textLength="29.4" lengthAdjust="spacingAndGlyphs" >−13</text>
<text x="773.2" y="307.1" font-size="13" fill="#1a1a1a" text-anchor="start" font-weight="normal" textLength="15.7" lengthAdjust="spacingAndGlyphs" >TT</text>
<text x="871" y="307.1" font-size="13" fill="#1a1a1a" text-anchor="start" font-weight="normal" textLength="17" lengthAdjust="spacingAndGlyphs" >29</text>
<text x="773.2" y="319.8" font-size="13" fill="#1a1a1a" text-anchor="start" font-weight="normal" textLength="63" lengthAdjust="spacingAndGlyphs" >PW (cm)</text>
<text x="871" y="319.8" font-size="13" fill="#1a1a1a" text-anchor="start" font-weight="normal" textLength="31.2" lengthAdjust="spacingAndGlyphs" >0.63</text>
<text x="796.2" y="347.8" font-size="13" fill="#1a1a1a" text-anchor="start" font-weight="normal" textLength="87.8" lengthAdjust="spacingAndGlyphs" >Lowest level</text>
<text x="773.2" y="370.1" font-size="13" fill="#1a1a1a" text-anchor="start" font-weight="normal" textLength="82" lengthAdjust="spacingAndGlyphs" >Press (mb)</text>
<text x="871" y="370.1" font-size="13" fill="#1a1a1a" text-anchor="start" font-weight="normal" textLength="41" lengthAdjust="spacingAndGlyphs" >976.4</text>
<text x="773.2" y="383.7" font-size="13" fill="#1a1a1a" text-anchor="start" font-weight="normal" textLength="74.3" lengthAdjust="spacingAndGlyphs" >Temp (°C)</text>
<text x="871" y="383.7" font-size="13" fill="#1a1a1a" text-anchor="start" font-weight="normal" textLength="20" lengthAdjust="spacingAndGlyphs" >3.1</text>
<text x="773.2" y="397" font-size="13" fill="#1a1a1a" text-anchor="start" font-weight="normal" textLength="74.3" lengthAdjust="spacingAndGlyphs" >Dewp (°C)</text>
<text x="871" y="397" font-size="13" fill="#1a1a1a" text-anchor="start" font-weight="normal" textLength="22" lengthAdjust="spacingAndGlyphs" >0.3</text>
<text x="773.2" y="411.1" font-size="12.4" font-weight="bold" font-style="italic">θ<tspan font-size="7" dy="1.5">E</tspan></text>
<text x="792.5" y="410.5" font-size="13" fill="#1a1a1a" text-anchor="start" font-weight="normal" textLength="23" lengthAdjust="spacingAndGlyphs" >(K)</text>
<text x="871" y="410.5" font-size="13" fill="#1a1a1a" text-anchor="start" font-weight="normal" textLength="40.3" lengthAdjust="spacingAndGlyphs" >289.2</text>
<text x="773.2" y="424.1" font-size="13" fill="#1a1a1a" text-anchor="start" font-weight="normal" textLength="48.2" lengthAdjust="spacingAndGlyphs" >LI (°C)</text>
<text x="871" y="424.1" font-size="13" fill="#1a1a1a" text-anchor="start" font-weight="normal" textLength="30" lengthAdjust="spacingAndGlyphs" >23.1</text>
<text x="773.2" y="437.9" font-size="13" fill="#1a1a1a" textLength="90" lengthAdjust="spacingAndGlyphs">CAPE (Jkg<tspan font-size="8" dy="-4">-1</tspan><tspan dy="4">)</tspan></text>
<text x="871" y="437.9" font-size="13" fill="#1a1a1a" text-anchor="start" font-weight="normal" textLength="7.8" lengthAdjust="spacingAndGlyphs" >2</text>
<text x="773.2" y="450.9" font-size="13" fill="#1a1a1a" textLength="77" lengthAdjust="spacingAndGlyphs">CIN (Jkg<tspan font-size="8" dy="-4">-1</tspan><tspan dy="4">)</tspan></text>
<text x="871" y="450.9" font-size="13" fill="#1a1a1a" text-anchor="start" font-weight="normal" textLength="7.8" lengthAdjust="spacingAndGlyphs" >0</text>
<text x="792.4" y="474.6" font-size="13" fill="#1a1a1a" text-anchor="start" font-weight="normal" textLength="102.8" lengthAdjust="spacingAndGlyphs" >Most Unstable</text>
<text x="773.2" y="497.3" font-size="13" fill="#1a1a1a" text-anchor="start" font-weight="normal" textLength="82" lengthAdjust="spacingAndGlyphs" >Press (mb)</text>
<text x="871" y="497.3" font-size="13" fill="#1a1a1a" text-anchor="start" font-weight="normal" textLength="40.4" lengthAdjust="spacingAndGlyphs" >784.2</text>
<text x="773.2" y="510.8" font-size="13" fill="#1a1a1a" text-anchor="start" font-weight="normal" textLength="74.3" lengthAdjust="spacingAndGlyphs" >Temp (°C)</text>
<text x="871" y="510.8" font-size="13" fill="#1a1a1a" text-anchor="start" font-weight="normal" textLength="20" lengthAdjust="spacingAndGlyphs" >3.1</text>
<text x="773.2" y="524.3" font-size="13" fill="#1a1a1a" text-anchor="start" font-weight="normal" textLength="74.3" lengthAdjust="spacingAndGlyphs" >Dewp (°C)</text>
<text x="871" y="524.3" font-size="13" fill="#1a1a1a" text-anchor="start" font-weight="normal" textLength="22" lengthAdjust="spacingAndGlyphs" >0.3</text>
<text x="773.2" y="538.4" font-size="12.4" font-weight="bold" font-style="italic">θ<tspan font-size="7" dy="1.5">E</tspan></text>
<text x="792.5" y="537.8" font-size="13" fill="#1a1a1a" text-anchor="start" font-weight="normal" textLength="23" lengthAdjust="spacingAndGlyphs" >(K)</text>
<text x="871" y="537.8" font-size="13" fill="#1a1a1a" text-anchor="start" font-weight="normal" textLength="40.4" lengthAdjust="spacingAndGlyphs" >306.0</text>
<text x="773.2" y="551.3" font-size="13" fill="#1a1a1a" text-anchor="start" font-weight="normal" textLength="48.2" lengthAdjust="spacingAndGlyphs" >LI (°C)</text>
<text x="871" y="551.3" font-size="13" fill="#1a1a1a" text-anchor="start" font-weight="normal" textLength="30.8" lengthAdjust="spacingAndGlyphs" >11.2</text>
<text x="773.2" y="564.7" font-size="13" fill="#1a1a1a" textLength="90" lengthAdjust="spacingAndGlyphs">CAPE (Jkg<tspan font-size="8" dy="-4">-1</tspan><tspan dy="4">)</tspan></text>
<text x="871" y="564.7" font-size="13" fill="#1a1a1a" text-anchor="start" font-weight="normal" textLength="7.8" lengthAdjust="spacingAndGlyphs" >0</text>
<text x="773.2" y="578.2" font-size="13" fill="#1a1a1a" textLength="77" lengthAdjust="spacingAndGlyphs">CIN (Jkg<tspan font-size="8" dy="-4">-1</tspan><tspan dy="4">)</tspan></text>
<text x="871" y="578.2" font-size="13" fill="#1a1a1a" text-anchor="start" font-weight="normal" textLength="7.8" lengthAdjust="spacingAndGlyphs" >0</text>
<text x="805.9" y="596.8" font-size="13" fill="#1a1a1a" text-anchor="start" font-weight="normal" textLength="77.3" lengthAdjust="spacingAndGlyphs" >Hodograph</text>
<text x="773.2" y="614.8" font-size="13" fill="#1a1a1a" textLength="73.4" lengthAdjust="spacingAndGlyphs">EH (Jkg<tspan font-size="8" dy="-4">-1</tspan><tspan dy="4">)</tspan></text>
<text x="871" y="614.8" font-size="13" fill="#1a1a1a" text-anchor="start" font-weight="normal" textLength="27" lengthAdjust="spacingAndGlyphs" >177</text>
<text x="773.2" y="628.3" font-size="13" fill="#1a1a1a" textLength="92.8" lengthAdjust="spacingAndGlyphs">SREH (Jkg<tspan font-size="8" dy="-4">-1</tspan><tspan dy="4">)</tspan></text>
<text x="871" y="628.3" font-size="13" fill="#1a1a1a" text-anchor="start" font-weight="normal" textLength="27" lengthAdjust="spacingAndGlyphs" >122</text>
<text x="773.2" y="650.7" font-size="13" fill="#1a1a1a" text-anchor="start" font-weight="normal" textLength="75.3" lengthAdjust="spacingAndGlyphs" >StmDir (°)</text>
<text x="871" y="650.7" font-size="13" fill="#1a1a1a" text-anchor="start" font-weight="normal" textLength="27" lengthAdjust="spacingAndGlyphs" >284</text>
<text x="773.2" y="664.2" font-size="13" fill="#1a1a1a" text-anchor="start" font-weight="normal" textLength="89" lengthAdjust="spacingAndGlyphs" >StmSpd (kt)</text>
<text x="871" y="664.2" font-size="13" fill="#1a1a1a" text-anchor="start" font-weight="normal" textLength="17.1" lengthAdjust="spacingAndGlyphs" >26</text>
</g>
<g font-family="Liberation Sans, sans-serif" fill="#333">
<text x="751.4" y="706" font-size="15.5" fill="#333" text-anchor="start" font-weight="normal" textLength="172.3" lengthAdjust="spacing" >NCEP 1−Hr PType:</text>
<text x="816.6" y="728.6" font-size="15.5" fill="#333" text-anchor="start" font-weight="normal" textLength="42.5" lengthAdjust="spacing" >None</text>
<text x="806.8" y="749.5" font-size="12.5" fill="#333" text-anchor="start" font-weight="normal" textLength="61.9" lengthAdjust="spacing" >(0" L.E.)</text>
</g>
<path d="M744.2 711.2 H931.5" stroke="#222" stroke-width="2"/>
</svg>
</body></html>
